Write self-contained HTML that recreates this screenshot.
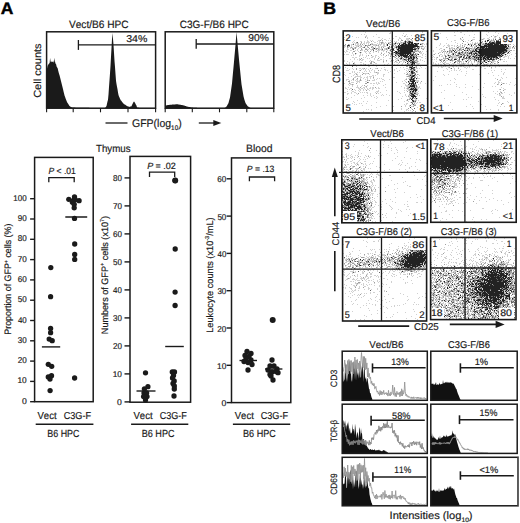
<!DOCTYPE html>
<html><head><meta charset="utf-8"><style>
html,body{margin:0;padding:0;background:#fff;width:520px;height:523px;overflow:hidden}
svg{display:block}
text{font-family:"Liberation Sans",sans-serif;text-rendering:geometricPrecision;font-kerning:none}
</style></head><body>
<svg width="520" height="523" viewBox="0 0 520 523">
<defs><filter id="sb" x="-5%" y="-5%" width="110%" height="110%"><feGaussianBlur stdDeviation="0.45"/></filter></defs>
<rect width="520" height="523" fill="#fff"/>
<g fill="#1a1a1a">
<text transform="translate(1.20 13.80) scale(1.0319 1)" fill="#000" stroke="#000" stroke-width="0.45"><tspan x="-0.42" y="0.00" font-size="16.90" font-weight="bold">A</tspan></text>
<text transform="translate(324.40 13.80) scale(1.0479 1)" fill="#000" stroke="#000" stroke-width="0.45"><tspan x="-1.13" y="0.00" font-size="16.90" font-weight="bold">B</tspan></text>
<text transform="translate(69.00 27.90) scale(0.9552 1)" fill="#1a1a1a" stroke="#1a1a1a" stroke-width="0.18"><tspan x="-0.05 7.03 12.94 18.24 21.19 24.14 31.22 37.12 40.07 47.74 54.82" y="0.00" font-size="10.61">Vect/B6 HPC</tspan></text>
<text transform="translate(180.30 28.30) scale(0.9433 1)" fill="#1a1a1a" stroke="#1a1a1a" stroke-width="0.18"><tspan x="-0.54 7.13 13.03 21.29 24.82 31.30 34.25 41.33 47.24 50.19 57.85 64.93" y="0.00" font-size="10.61">C3G-F/B6 HPC</tspan></text>
<text transform="translate(41.00 97.30) rotate(-90) scale(1.0652 1)" fill="#1a1a1a" stroke="#1a1a1a" stroke-width="0.18"><tspan x="-0.52 6.94 12.69 14.98 17.28 20.15 25.32 31.07 36.81 42.56 45.43" y="0.00" font-size="10.34">Cell counts</tspan></text>
<path d="M46.6 108.2 46.6 70.0 47.1 68.2 47.6 65.8 48.1 64.9 48.6 63.9 49.1 63.6 49.6 63.0 50.1 58.0 50.6 61.5 51.1 62.3 51.6 61.3 52.1 62.1 52.6 62.0 53.1 60.5 53.6 62.4 54.1 62.3 54.6 57.8 55.1 62.0 55.6 63.8 56.1 64.3 56.6 66.5 57.1 67.6 57.6 68.1 58.1 70.3 58.6 72.2 59.1 73.9 59.6 75.6 60.1 77.4 60.6 79.4 61.1 81.4 61.6 83.4 62.1 85.4 62.6 87.5 63.1 89.6 63.6 91.7 64.1 93.8 64.6 95.8 65.1 97.1 65.6 98.4 66.1 99.7 66.6 101.0 67.1 102.2 67.6 103.0 68.1 103.8 68.6 104.6 69.1 105.4 69.6 106.1 70.1 106.4 70.6 106.7 71.1 107.0 71.6 107.3 72.1 107.6 72.6 107.6 73.1 107.6 73.6 107.6 74.1 107.6 74.6 107.6 75.1 107.6 75.6 107.7 76.1 107.7 76.6 107.7 77.1 107.7 77.6 107.7 78.1 107.7 78.6 107.7 79.1 107.7 79.6 107.7 80.1 107.7 80.6 107.7 81.1 107.7 81.6 107.7 82.1 107.7 82.6 107.8 83.1 107.8 83.6 107.8 84.1 107.8 84.6 107.8 85.1 107.8 85.6 107.8 86.1 107.8 86.6 107.8 87.1 107.8 87.6 107.8 88.1 107.8 88.6 107.8 89.1 107.8 89.6 107.9 90.1 107.9 90.6 107.9 91.1 107.9 91.6 107.9 92.1 107.9 92.6 107.9 93.1 107.9 93.6 107.9 94.1 107.9 94.6 107.9 95.1 107.9 95.6 107.9 96.1 107.9 96.6 108.0 97.1 108.0 97.6 108.0 98.1 108.0 98.6 108.0 99.1 108.0 99.6 108.0 100.0 108.2Z" fill="#1a1a1a" stroke="none" stroke-width="1"/>
<path d="M105.0 108.2 105.0 108.1 105.5 107.5 106.0 106.7 106.5 106.0 107.0 103.7 107.5 101.4 108.0 99.8 108.5 94.4 109.0 87.0 109.5 80.2 110.0 73.2 110.5 65.9 111.0 56.8 111.5 47.9 112.0 38.9 112.5 32.9 113.0 39.0 113.5 44.8 114.0 52.9 114.5 60.9 115.0 67.1 115.5 73.9 116.0 80.7 116.5 83.9 117.0 86.8 117.5 89.3 118.0 92.5 118.5 95.0 119.0 96.4 119.5 97.6 120.0 98.7 120.5 99.7 121.0 100.7 121.5 100.8 122.0 102.0 122.5 102.4 123.0 102.7 123.5 103.8 124.0 103.9 124.5 104.6 125.0 104.5 125.5 104.9 126.0 105.2 126.5 105.7 127.0 105.9 127.5 106.2 128.0 106.4 128.5 106.4 129.0 106.7 129.5 106.9 130.0 106.5 130.5 106.6 131.0 106.4 131.5 106.2 132.0 105.0 132.5 104.1 133.0 103.0 133.5 102.1 134.0 101.5 134.5 101.9 135.0 103.0 135.5 103.8 136.0 105.1 136.5 105.5 137.0 107.4 137.5 107.6 138.0 107.7 138.5 107.5 139.0 107.9 139.5 108.0 140.0 107.8 140.0 108.2Z" fill="#1a1a1a" stroke="none" stroke-width="1"/>
<rect x="46.6" y="31.8" width="109.0" height="76.4" fill="none" stroke="#1a1a1a" stroke-width="1.5"/>
<line x1="46.6" y1="108.2" x2="46.6" y2="112.3" stroke="#1a1a1a" stroke-width="1.1"/>
<line x1="73.2" y1="108.2" x2="73.2" y2="112.3" stroke="#1a1a1a" stroke-width="1.1"/>
<line x1="100.5" y1="108.2" x2="100.5" y2="112.3" stroke="#1a1a1a" stroke-width="1.1"/>
<line x1="128.0" y1="108.2" x2="128.0" y2="112.3" stroke="#1a1a1a" stroke-width="1.1"/>
<line x1="155.6" y1="108.2" x2="155.6" y2="112.3" stroke="#1a1a1a" stroke-width="1.1"/>
<line x1="78.4" y1="40.0" x2="78.4" y2="49.9" stroke="#1a1a1a" stroke-width="1.3"/>
<line x1="78.4" y1="44.9" x2="155.6" y2="44.9" stroke="#1a1a1a" stroke-width="1.3"/>
<text transform="translate(126.60 42.00) scale(1.0672 1)" fill="#1a1a1a" stroke="#1a1a1a" stroke-width="0.18"><tspan x="-0.38 5.14 10.65" y="0.00" font-size="9.92">34%</tspan></text>
<rect x="165.2" y="31.8" width="108.6" height="76.4" fill="none" stroke="#1a1a1a" stroke-width="1.5"/>
<path d="M165.2 108.2 165.2 105.5 165.7 105.4 166.2 105.4 166.7 105.3 167.2 105.2 167.7 105.1 168.2 105.1 168.7 105.0 169.2 104.9 169.7 104.8 170.2 104.8 170.7 104.7 171.2 104.7 171.7 104.7 172.2 104.6 172.7 104.6 173.2 104.5 173.7 104.5 174.2 104.4 174.7 104.4 175.2 104.4 175.7 104.3 176.2 104.3 176.7 104.2 177.2 104.2 177.7 104.3 178.2 104.4 178.7 104.5 179.2 104.6 179.7 104.7 180.2 104.7 180.7 104.8 181.2 104.9 181.7 105.0 182.2 105.1 182.7 105.2 183.2 105.3 183.7 105.4 184.2 105.6 184.7 105.7 185.2 105.9 185.7 106.1 186.2 106.2 186.7 106.4 187.2 106.5 187.7 106.7 188.2 106.8 188.7 106.9 189.2 107.0 189.7 107.1 190.2 107.2 190.7 107.3 191.2 107.4 191.7 107.5 192.2 107.6 192.7 107.6 193.2 107.7 193.7 107.7 194.2 107.7 194.7 107.7 195.2 107.8 195.7 107.8 196.2 107.8 196.7 107.8 197.2 107.9 197.7 107.9 198.2 107.9 198.7 107.9 199.2 108.0 199.7 108.0 200.0 108.2Z" fill="#1a1a1a" stroke="none" stroke-width="1"/>
<path d="M224.0 108.2 224.0 108.2 224.5 108.2 225.0 107.8 225.5 107.4 226.0 107.0 226.5 106.6 227.0 105.7 227.5 104.8 228.0 103.9 228.5 103.0 229.0 101.1 229.5 99.3 230.0 97.4 230.5 94.0 231.0 90.5 231.5 87.0 232.0 83.6 232.5 78.1 233.0 72.6 233.5 67.2 234.0 61.7 234.5 56.1 235.0 50.6 235.5 45.0 236.0 38.5 236.5 32.0 237.0 37.6 237.5 43.1 238.0 48.6 238.5 54.0 239.0 59.5 239.5 64.6 240.0 69.6 240.5 74.6 241.0 79.6 241.5 84.2 242.0 87.2 242.5 90.2 243.0 93.2 243.5 96.2 244.0 98.3 244.5 99.9 245.0 101.4 245.5 103.0 246.0 103.8 246.5 104.5 247.0 105.2 247.5 106.0 248.0 106.4 248.5 106.7 249.0 107.1 249.5 107.4 250.0 107.8 250.5 107.9 251.0 108.0 251.5 108.1 252.0 108.2 252.0 108.2Z" fill="#1a1a1a" stroke="none" stroke-width="1"/>
<line x1="165.2" y1="108.2" x2="165.2" y2="112.3" stroke="#1a1a1a" stroke-width="1.1"/>
<line x1="192.3" y1="108.2" x2="192.3" y2="112.3" stroke="#1a1a1a" stroke-width="1.1"/>
<line x1="219.5" y1="108.2" x2="219.5" y2="112.3" stroke="#1a1a1a" stroke-width="1.1"/>
<line x1="246.8" y1="108.2" x2="246.8" y2="112.3" stroke="#1a1a1a" stroke-width="1.1"/>
<line x1="273.8" y1="108.2" x2="273.8" y2="112.3" stroke="#1a1a1a" stroke-width="1.1"/>
<line x1="196.2" y1="38.9" x2="196.2" y2="48.8" stroke="#1a1a1a" stroke-width="1.3"/>
<line x1="196.2" y1="44.0" x2="273.8" y2="44.0" stroke="#1a1a1a" stroke-width="1.3"/>
<text transform="translate(248.80 41.40) scale(1.0353 1)" fill="#1a1a1a" stroke="#1a1a1a" stroke-width="0.18"><tspan x="-0.46 5.05 10.57" y="0.00" font-size="9.92">90%</tspan></text>
<line x1="105.5" y1="123.0" x2="127.5" y2="123.0" stroke="#1a1a1a" stroke-width="1.3"/>
<text transform="translate(132.50 126.80) scale(0.9413 1)" fill="#1a1a1a" stroke="#1a1a1a" stroke-width="0.18"><tspan x="-0.56 8.13 14.95 22.41 26.13 28.61 34.82" y="0.00" font-size="11.17">GFP(log</tspan><tspan x="41.04 44.77" y="3.35" font-size="6.70">10</tspan><tspan x="48.49" y="0.00" font-size="11.17">)</tspan></text>
<line x1="198.8" y1="123.0" x2="214.3" y2="123.0" stroke="#1a1a1a" stroke-width="1.3"/>
<path d="M213.3 120.0 221.3 123.0 213.3 126.0Z" fill="#1a1a1a" stroke="none" stroke-width="1"/>
<text transform="translate(96.20 151.60) scale(0.9433 1)" fill="#1a1a1a" stroke="#1a1a1a" stroke-width="0.18"><tspan x="-0.23 6.08 11.83 17.00 25.61 31.35" y="0.00" font-size="10.34">Thymus</tspan></text>
<text transform="translate(246.90 151.50) scale(0.9768 1)" fill="#1a1a1a" stroke="#1a1a1a" stroke-width="0.18"><tspan x="-0.87 6.21 8.57 14.47 20.37" y="0.00" font-size="10.61">Blood</tspan></text>
<rect x="34.6" y="157.4" width="58.6" height="244.3" fill="none" stroke="#1a1a1a" stroke-width="1.5"/>
<line x1="30.1" y1="401.7" x2="34.6" y2="401.7" stroke="#1a1a1a" stroke-width="1.4"/>
<text transform="translate(22.25 403.70) scale(1.0360 1)" fill="#1a1a1a" stroke="#1a1a1a" stroke-width="0.18"><tspan x="-0.33" y="0.00" font-size="8.38">0</tspan></text>
<line x1="30.1" y1="381.4" x2="34.6" y2="381.4" stroke="#1a1a1a" stroke-width="1.4"/>
<text transform="translate(18.10 383.40) scale(0.9934 1)" fill="#1a1a1a" stroke="#1a1a1a" stroke-width="0.18"><tspan x="-0.64 4.02" y="0.00" font-size="8.38">10</tspan></text>
<line x1="30.1" y1="361.1" x2="34.6" y2="361.1" stroke="#1a1a1a" stroke-width="1.4"/>
<text transform="translate(18.10 363.10) scale(0.9682 1)" fill="#1a1a1a" stroke="#1a1a1a" stroke-width="0.18"><tspan x="-0.42 4.24" y="0.00" font-size="8.38">20</tspan></text>
<line x1="30.1" y1="340.8" x2="34.6" y2="340.8" stroke="#1a1a1a" stroke-width="1.4"/>
<text transform="translate(18.10 342.80) scale(0.9568 1)" fill="#1a1a1a" stroke="#1a1a1a" stroke-width="0.18"><tspan x="-0.32 4.34" y="0.00" font-size="8.38">30</tspan></text>
<line x1="30.1" y1="320.5" x2="34.6" y2="320.5" stroke="#1a1a1a" stroke-width="1.4"/>
<text transform="translate(18.10 322.50) scale(0.9430 1)" fill="#1a1a1a" stroke="#1a1a1a" stroke-width="0.18"><tspan x="-0.19 4.47" y="0.00" font-size="8.38">40</tspan></text>
<line x1="30.1" y1="300.2" x2="34.6" y2="300.2" stroke="#1a1a1a" stroke-width="1.4"/>
<text transform="translate(18.10 302.20) scale(0.9586 1)" fill="#1a1a1a" stroke="#1a1a1a" stroke-width="0.18"><tspan x="-0.34 4.32" y="0.00" font-size="8.38">50</tspan></text>
<line x1="30.1" y1="279.9" x2="34.6" y2="279.9" stroke="#1a1a1a" stroke-width="1.4"/>
<text transform="translate(18.10 281.90) scale(0.9687 1)" fill="#1a1a1a" stroke="#1a1a1a" stroke-width="0.18"><tspan x="-0.43 4.23" y="0.00" font-size="8.38">60</tspan></text>
<line x1="30.1" y1="259.6" x2="34.6" y2="259.6" stroke="#1a1a1a" stroke-width="1.4"/>
<text transform="translate(18.10 261.60) scale(0.9692 1)" fill="#1a1a1a" stroke="#1a1a1a" stroke-width="0.18"><tspan x="-0.43 4.23" y="0.00" font-size="8.38">70</tspan></text>
<line x1="30.1" y1="239.3" x2="34.6" y2="239.3" stroke="#1a1a1a" stroke-width="1.4"/>
<text transform="translate(18.10 241.30) scale(0.9618 1)" fill="#1a1a1a" stroke="#1a1a1a" stroke-width="0.18"><tspan x="-0.36 4.30" y="0.00" font-size="8.38">80</tspan></text>
<line x1="30.1" y1="219.0" x2="34.6" y2="219.0" stroke="#1a1a1a" stroke-width="1.4"/>
<text transform="translate(18.10 221.00) scale(0.9650 1)" fill="#1a1a1a" stroke="#1a1a1a" stroke-width="0.18"><tspan x="-0.39 4.27" y="0.00" font-size="8.38">90</tspan></text>
<line x1="30.1" y1="198.7" x2="34.6" y2="198.7" stroke="#1a1a1a" stroke-width="1.4"/>
<text transform="translate(13.95 200.70) scale(0.9565 1)" fill="#1a1a1a" stroke="#1a1a1a" stroke-width="0.18"><tspan x="-0.64 4.02 8.68" y="0.00" font-size="8.38">100</tspan></text>
<text transform="translate(11.40 334.00) rotate(-90) scale(0.9489 1)" fill="#1a1a1a" stroke="#1a1a1a" stroke-width="0.18"><tspan x="-0.77 5.47 8.59 13.79 19.00 24.20 27.32 29.92 32.00 37.20 42.41 45.01 50.21 52.81 55.41 62.69 68.40" y="0.00" font-size="9.36">Proportion of GFP</tspan><tspan x="74.65" y="-3.37" font-size="5.61">+</tspan><tspan x="77.92 80.52 85.20 90.41 92.49 94.57 99.24 101.84 104.96 113.28" y="0.00" font-size="9.36"> cells (%)</tspan></text>
<rect x="130.0" y="156.4" width="60.6" height="245.8" fill="none" stroke="#1a1a1a" stroke-width="1.5"/>
<line x1="124.5" y1="401.9" x2="130.0" y2="401.9" stroke="#1a1a1a" stroke-width="1.4"/>
<text transform="translate(117.45 404.90) scale(1.0360 1)" fill="#1a1a1a" stroke="#1a1a1a" stroke-width="0.18"><tspan x="-0.33" y="0.00" font-size="8.38">0</tspan></text>
<line x1="124.5" y1="373.9" x2="130.0" y2="373.9" stroke="#1a1a1a" stroke-width="1.4"/>
<text transform="translate(113.30 376.90) scale(0.9934 1)" fill="#1a1a1a" stroke="#1a1a1a" stroke-width="0.18"><tspan x="-0.64 4.02" y="0.00" font-size="8.38">10</tspan></text>
<line x1="124.5" y1="345.9" x2="130.0" y2="345.9" stroke="#1a1a1a" stroke-width="1.4"/>
<text transform="translate(113.30 348.90) scale(0.9682 1)" fill="#1a1a1a" stroke="#1a1a1a" stroke-width="0.18"><tspan x="-0.42 4.24" y="0.00" font-size="8.38">20</tspan></text>
<line x1="124.5" y1="317.9" x2="130.0" y2="317.9" stroke="#1a1a1a" stroke-width="1.4"/>
<text transform="translate(113.30 320.90) scale(0.9568 1)" fill="#1a1a1a" stroke="#1a1a1a" stroke-width="0.18"><tspan x="-0.32 4.34" y="0.00" font-size="8.38">30</tspan></text>
<line x1="124.5" y1="289.9" x2="130.0" y2="289.9" stroke="#1a1a1a" stroke-width="1.4"/>
<text transform="translate(113.30 292.90) scale(0.9430 1)" fill="#1a1a1a" stroke="#1a1a1a" stroke-width="0.18"><tspan x="-0.19 4.47" y="0.00" font-size="8.38">40</tspan></text>
<line x1="124.5" y1="261.9" x2="130.0" y2="261.9" stroke="#1a1a1a" stroke-width="1.4"/>
<text transform="translate(113.30 264.90) scale(0.9586 1)" fill="#1a1a1a" stroke="#1a1a1a" stroke-width="0.18"><tspan x="-0.34 4.32" y="0.00" font-size="8.38">50</tspan></text>
<line x1="124.5" y1="233.9" x2="130.0" y2="233.9" stroke="#1a1a1a" stroke-width="1.4"/>
<text transform="translate(113.30 236.90) scale(0.9687 1)" fill="#1a1a1a" stroke="#1a1a1a" stroke-width="0.18"><tspan x="-0.43 4.23" y="0.00" font-size="8.38">60</tspan></text>
<line x1="124.5" y1="205.9" x2="130.0" y2="205.9" stroke="#1a1a1a" stroke-width="1.4"/>
<text transform="translate(113.30 208.90) scale(0.9692 1)" fill="#1a1a1a" stroke="#1a1a1a" stroke-width="0.18"><tspan x="-0.43 4.23" y="0.00" font-size="8.38">70</tspan></text>
<line x1="124.5" y1="177.9" x2="130.0" y2="177.9" stroke="#1a1a1a" stroke-width="1.4"/>
<text transform="translate(113.30 180.90) scale(0.9618 1)" fill="#1a1a1a" stroke="#1a1a1a" stroke-width="0.18"><tspan x="-0.36 4.30" y="0.00" font-size="8.38">80</tspan></text>
<text transform="translate(107.50 333.40) rotate(-90) scale(0.9702 1)" fill="#1a1a1a" stroke="#1a1a1a" stroke-width="0.18"><tspan x="-0.77 5.99 11.19 18.99 24.19 29.40 32.51 37.19 39.79 45.00 47.60 50.20 57.47 63.19" y="0.00" font-size="9.36">Numbers of GFP</tspan><tspan x="69.43" y="-3.37" font-size="5.61">+</tspan><tspan x="72.71 75.31 79.99 85.19 87.27 89.35 94.03 96.63 99.75 104.43 109.63" y="0.00" font-size="9.36"> cells (x10</tspan><tspan x="114.83" y="-3.37" font-size="5.61">7</tspan><tspan x="117.96" y="0.00" font-size="9.36">)</tspan></text>
<rect x="231.5" y="157.9" width="59.3" height="244.7" fill="none" stroke="#1a1a1a" stroke-width="1.5"/>
<line x1="226.6" y1="402.6" x2="231.5" y2="402.6" stroke="#1a1a1a" stroke-width="1.4"/>
<text transform="translate(221.85 406.10) scale(1.0360 1)" fill="#1a1a1a" stroke="#1a1a1a" stroke-width="0.18"><tspan x="-0.33" y="0.00" font-size="8.38">0</tspan></text>
<line x1="226.6" y1="365.3" x2="231.5" y2="365.3" stroke="#1a1a1a" stroke-width="1.4"/>
<text transform="translate(217.70 368.80) scale(0.9934 1)" fill="#1a1a1a" stroke="#1a1a1a" stroke-width="0.18"><tspan x="-0.64 4.02" y="0.00" font-size="8.38">10</tspan></text>
<line x1="226.6" y1="328.0" x2="231.5" y2="328.0" stroke="#1a1a1a" stroke-width="1.4"/>
<text transform="translate(217.70 331.50) scale(0.9682 1)" fill="#1a1a1a" stroke="#1a1a1a" stroke-width="0.18"><tspan x="-0.42 4.24" y="0.00" font-size="8.38">20</tspan></text>
<line x1="226.6" y1="290.7" x2="231.5" y2="290.7" stroke="#1a1a1a" stroke-width="1.4"/>
<text transform="translate(217.70 294.20) scale(0.9568 1)" fill="#1a1a1a" stroke="#1a1a1a" stroke-width="0.18"><tspan x="-0.32 4.34" y="0.00" font-size="8.38">30</tspan></text>
<line x1="226.6" y1="253.4" x2="231.5" y2="253.4" stroke="#1a1a1a" stroke-width="1.4"/>
<text transform="translate(217.70 256.90) scale(0.9430 1)" fill="#1a1a1a" stroke="#1a1a1a" stroke-width="0.18"><tspan x="-0.19 4.47" y="0.00" font-size="8.38">40</tspan></text>
<line x1="226.6" y1="216.1" x2="231.5" y2="216.1" stroke="#1a1a1a" stroke-width="1.4"/>
<text transform="translate(217.70 219.60) scale(0.9586 1)" fill="#1a1a1a" stroke="#1a1a1a" stroke-width="0.18"><tspan x="-0.34 4.32" y="0.00" font-size="8.38">50</tspan></text>
<line x1="226.6" y1="178.8" x2="231.5" y2="178.8" stroke="#1a1a1a" stroke-width="1.4"/>
<text transform="translate(217.70 182.30) scale(0.9687 1)" fill="#1a1a1a" stroke="#1a1a1a" stroke-width="0.18"><tspan x="-0.43 4.23" y="0.00" font-size="8.38">60</tspan></text>
<text transform="translate(212.80 332.00) rotate(-90) scale(0.9828 1)" fill="#1a1a1a" stroke="#1a1a1a" stroke-width="0.18"><tspan x="-0.77 4.44 9.64 14.85 19.52 24.73 29.41 34.09 36.69 41.89 44.49 49.17 54.37 59.58 64.78 67.38 72.06 74.66 77.78 82.45 87.66" y="0.00" font-size="9.36">Leukocyte counts (x10</tspan><tspan x="92.86 94.73" y="-3.37" font-size="5.61">-3</tspan><tspan x="97.85 100.45 108.25 113.45" y="0.00" font-size="9.36">/mL)</tspan></text>
<text transform="translate(48.80 173.80) scale(0.9400 1)" fill="#1a1a1a" stroke="#1a1a1a" stroke-width="0.18"><tspan x="-0.28" y="0.00" font-size="9.08" font-style="italic">P</tspan><tspan x="5.78 8.30 13.60 16.12 18.64 23.69" y="0.00" font-size="9.08"> &lt; .01</tspan></text>
<path d="M48.8 182.3V177.7H74.2V182.3" fill="none" stroke="#1a1a1a" stroke-width="1.3"/>
<text transform="translate(147.40 169.00) scale(0.9899 1)" fill="#1a1a1a" stroke="#1a1a1a" stroke-width="0.18"><tspan x="-0.28" y="0.00" font-size="9.08" font-style="italic">P</tspan><tspan x="5.78 8.30 13.60 16.12 18.64 23.69" y="0.00" font-size="9.08"> = .02</tspan></text>
<path d="M149.5 177.0V172.1H174.7V177.0" fill="none" stroke="#1a1a1a" stroke-width="1.3"/>
<text transform="translate(247.10 172.30) scale(0.9491 1)" fill="#1a1a1a" stroke="#1a1a1a" stroke-width="0.18"><tspan x="-0.28" y="0.00" font-size="9.08" font-style="italic">P</tspan><tspan x="5.78 8.30 13.60 16.12 18.64 23.69" y="0.00" font-size="9.08"> = .13</tspan></text>
<path d="M249.4 181.3V177.0H274.6V181.3" fill="none" stroke="#1a1a1a" stroke-width="1.3"/>
<text transform="translate(37.50 418.70) scale(0.9498 1)" fill="#1a1a1a" stroke="#1a1a1a" stroke-width="0.18"><tspan x="-0.04 6.66 12.26 17.28" y="0.00" font-size="10.06">Vect</tspan></text>
<text transform="translate(64.20 418.70) scale(0.9058 1)" fill="#1a1a1a" stroke="#1a1a1a" stroke-width="0.18"><tspan x="-0.51 6.75 12.34 20.17 23.51" y="0.00" font-size="10.06">C3G-F</tspan></text>
<line x1="35.7" y1="424.2" x2="93.4" y2="424.2" stroke="#1a1a1a" stroke-width="1.5"/>
<text transform="translate(48.00 436.60) scale(0.8617 1)" fill="#1a1a1a" stroke="#1a1a1a" stroke-width="0.18"><tspan x="-0.85 6.05 11.79 14.67 22.13 29.02" y="0.00" font-size="10.34">B6 HPC</tspan></text>
<text transform="translate(133.50 418.70) scale(0.9548 1)" fill="#1a1a1a" stroke="#1a1a1a" stroke-width="0.18"><tspan x="-0.04 6.66 12.26 17.28" y="0.00" font-size="10.06">Vect</tspan></text>
<text transform="translate(160.20 418.70) scale(0.8990 1)" fill="#1a1a1a" stroke="#1a1a1a" stroke-width="0.18"><tspan x="-0.51 6.75 12.34 20.17 23.51" y="0.00" font-size="10.06">C3G-F</tspan></text>
<line x1="131.1" y1="424.2" x2="188.3" y2="424.2" stroke="#1a1a1a" stroke-width="1.5"/>
<text transform="translate(142.50 436.60) scale(0.8783 1)" fill="#1a1a1a" stroke="#1a1a1a" stroke-width="0.18"><tspan x="-0.85 6.05 11.79 14.67 22.13 29.02" y="0.00" font-size="10.34">B6 HPC</tspan></text>
<text transform="translate(234.80 418.70) scale(0.9498 1)" fill="#1a1a1a" stroke="#1a1a1a" stroke-width="0.18"><tspan x="-0.04 6.66 12.26 17.28" y="0.00" font-size="10.06">Vect</tspan></text>
<text transform="translate(261.20 418.70) scale(0.9058 1)" fill="#1a1a1a" stroke="#1a1a1a" stroke-width="0.18"><tspan x="-0.51 6.75 12.34 20.17 23.51" y="0.00" font-size="10.06">C3G-F</tspan></text>
<line x1="232.9" y1="424.2" x2="290.2" y2="424.2" stroke="#1a1a1a" stroke-width="1.5"/>
<text transform="translate(243.80 436.60) scale(0.8755 1)" fill="#1a1a1a" stroke="#1a1a1a" stroke-width="0.18"><tspan x="-0.85 6.05 11.79 14.67 22.13 29.02" y="0.00" font-size="10.34">B6 HPC</tspan></text>
<circle cx="74.5" cy="196.8" r="2.65"/>
<circle cx="68.8" cy="199.3" r="2.65"/>
<circle cx="79.1" cy="200.7" r="2.65"/>
<circle cx="73.4" cy="200.4" r="2.65"/>
<circle cx="75.2" cy="199.7" r="2.65"/>
<circle cx="72.4" cy="202.2" r="2.65"/>
<circle cx="74.2" cy="204.3" r="2.65"/>
<circle cx="74.2" cy="207.8" r="2.65"/>
<circle cx="74.5" cy="218.4" r="2.65"/>
<circle cx="74.7" cy="244.0" r="2.65"/>
<circle cx="74.7" cy="254.4" r="2.65"/>
<circle cx="74.7" cy="259.4" r="2.65"/>
<circle cx="50.8" cy="267.6" r="2.65"/>
<circle cx="50.6" cy="296.7" r="2.65"/>
<circle cx="50.6" cy="328.5" r="2.65"/>
<circle cx="50.6" cy="332.7" r="2.65"/>
<circle cx="49.2" cy="339.1" r="2.65"/>
<circle cx="52.2" cy="340.7" r="2.65"/>
<circle cx="48.3" cy="364.3" r="2.65"/>
<circle cx="51.7" cy="366.3" r="2.65"/>
<circle cx="48.3" cy="376.9" r="2.65"/>
<circle cx="51.5" cy="375.7" r="2.65"/>
<circle cx="50.0" cy="379.0" r="2.65"/>
<circle cx="50.1" cy="390.6" r="2.65"/>
<circle cx="74.6" cy="378.0" r="2.65"/>
<line x1="65.3" y1="217.0" x2="87.2" y2="217.0" stroke="#1a1a1a" stroke-width="1.5"/>
<line x1="41.9" y1="346.9" x2="60.2" y2="346.9" stroke="#1a1a1a" stroke-width="1.4"/>
<circle cx="175.2" cy="180.5" r="2.65"/>
<circle cx="175.2" cy="249.0" r="2.65"/>
<circle cx="175.1" cy="292.1" r="2.65"/>
<circle cx="175.1" cy="305.5" r="2.65"/>
<circle cx="145.5" cy="372.8" r="2.65"/>
<circle cx="147.9" cy="386.7" r="2.65"/>
<circle cx="144.4" cy="388.8" r="2.65"/>
<circle cx="144.0" cy="393.0" r="2.65"/>
<circle cx="146.6" cy="393.0" r="2.65"/>
<circle cx="143.6" cy="396.6" r="2.65"/>
<circle cx="147.0" cy="396.6" r="2.65"/>
<circle cx="145.5" cy="400.0" r="2.65"/>
<circle cx="172.3" cy="371.9" r="2.65"/>
<circle cx="174.5" cy="372.0" r="2.65"/>
<circle cx="173.5" cy="375.4" r="2.65"/>
<circle cx="172.5" cy="378.0" r="2.65"/>
<circle cx="174.2" cy="381.0" r="2.65"/>
<circle cx="173.0" cy="383.5" r="2.65"/>
<circle cx="174.3" cy="386.0" r="2.65"/>
<circle cx="174.3" cy="389.0" r="2.65"/>
<circle cx="174.0" cy="396.0" r="2.65"/>
<circle cx="175.2" cy="180.5" r="3.0"/>
<line x1="165.2" y1="346.5" x2="183.8" y2="346.5" stroke="#1a1a1a" stroke-width="1.4"/>
<line x1="136.5" y1="391.0" x2="155.5" y2="391.0" stroke="#1a1a1a" stroke-width="1.4"/>
<circle cx="272.7" cy="320.0" r="3.0"/>
<circle cx="247.0" cy="351.5" r="2.65"/>
<circle cx="251.0" cy="353.5" r="2.65"/>
<circle cx="245.0" cy="355.5" r="2.65"/>
<circle cx="249.0" cy="356.5" r="2.65"/>
<circle cx="246.0" cy="359.0" r="2.65"/>
<circle cx="251.0" cy="360.0" r="2.65"/>
<circle cx="244.0" cy="361.5" r="2.65"/>
<circle cx="248.0" cy="362.5" r="2.65"/>
<circle cx="252.0" cy="364.5" r="2.65"/>
<circle cx="248.0" cy="370.0" r="2.65"/>
<circle cx="272.0" cy="360.0" r="2.65"/>
<circle cx="270.0" cy="366.0" r="2.65"/>
<circle cx="274.0" cy="366.0" r="2.65"/>
<circle cx="277.0" cy="369.0" r="2.65"/>
<circle cx="268.0" cy="370.0" r="2.65"/>
<circle cx="272.0" cy="372.0" r="2.65"/>
<circle cx="276.0" cy="371.5" r="2.65"/>
<circle cx="270.0" cy="374.5" r="2.65"/>
<circle cx="278.0" cy="372.7" r="2.65"/>
<circle cx="271.0" cy="376.0" r="2.65"/>
<circle cx="273.0" cy="380.0" r="2.65"/>
<line x1="239.5" y1="360.5" x2="257.0" y2="360.5" stroke="#1a1a1a" stroke-width="1.4"/>
<line x1="265.0" y1="369.0" x2="282.4" y2="369.0" stroke="#1a1a1a" stroke-width="1.4"/>
<text transform="translate(366.00 26.50) scale(0.9704 1)" fill="#1a1a1a" stroke="#1a1a1a" stroke-width="0.18"><tspan x="-0.04 6.66 12.26 17.28 20.08 22.87 29.58" y="0.00" font-size="10.06">Vect/B6</tspan></text>
<text transform="translate(447.50 26.20) scale(0.9366 1)" fill="#1a1a1a" stroke="#1a1a1a" stroke-width="0.18"><tspan x="-0.51 6.75 12.34 20.17 23.51 29.66 32.45 39.16" y="0.00" font-size="10.06">C3G-F/B6</tspan></text>
<g filter="url(#sb)">
<path d="M352 31h1M363 31h1M391 31h1M422 31h1M365 32h1M390 32h1M422 32h1M389 33h2M403 33h1M361 34h1M364 34h1M376 34h1M406 34h1M366 35h1M402 35h1M405 35h1M411 35h1M352 36h1M365 36h2M373 36h1M395 36h2M405 36h1M407 36h1M344 37h1M356 37h1M358 37h1M367 37h1M378 37h2M399 37h1M367 38h1M382 38h1M389 38h1M393 38h1M399 38h2M406 38h3M344 39h1M381 39h1M384 39h2M398 39h1M401 39h1M406 39h3M410 39h1M354 40h1M367 40h1M370 40h1M372 40h1M378 40h2M386 40h1M388 40h1M390 40h1M398 40h1M407 40h3M411 40h2M353 41h1M360 41h2M364 41h1M367 41h2M373 41h1M377 41h1M379 41h1M382 41h1M391 41h1M394 41h1M396 41h1M400 41h1M407 41h1M411 41h1M352 42h1M354 42h1M364 42h1M366 42h4M374 42h2M379 42h2M383 42h1M385 42h1M388 42h2M396 42h1M398 42h1M400 42h1M402 42h1M406 42h1M353 43h1M355 43h4M360 43h2M363 43h2M366 43h1M368 43h1M371 43h2M377 43h1M379 43h1M382 43h3M386 43h1M389 43h1M393 43h1M396 43h1M398 43h1M400 43h3M406 43h2M413 43h1M420 43h2M423 43h1M426 43h1M349 44h1M351 44h2M355 44h1M357 44h2M364 44h1M368 44h1M371 44h1M373 44h4M378 44h4M383 44h2M386 44h1M389 44h1M391 44h1M393 44h1M395 44h1M397 44h1M418 44h1M422 44h1M424 44h1M426 44h1M345 45h1M351 45h1M355 45h7M363 45h1M367 45h1M370 45h1M373 45h3M377 45h1M380 45h1M383 45h2M386 45h1M391 45h2M396 45h1M422 45h1M344 46h2M348 46h1M351 46h1M353 46h1M356 46h2M360 46h1M364 46h2M371 46h1M375 46h1M378 46h2M381 46h5M393 46h3M420 46h1M423 46h1M425 46h1M344 47h1M348 47h1M350 47h1M352 47h1M354 47h1M356 47h1M359 47h2M362 47h1M367 47h1M372 47h1M375 47h1M378 47h2M387 47h1M390 47h1M394 47h1M421 47h1M424 47h1M347 48h1M350 48h1M354 48h1M358 48h1M365 48h2M372 48h1M375 48h1M378 48h2M381 48h2M384 48h2M387 48h1M391 48h1M394 48h1M397 48h1M413 48h1M419 48h1M422 48h3M347 49h2M352 49h1M357 49h1M362 49h1M367 49h2M370 49h2M375 49h1M379 49h3M384 49h2M387 49h1M396 49h1M416 49h2M422 49h1M346 50h1M350 50h2M355 50h1M357 50h1M361 50h2M364 50h1M371 50h1M377 50h3M381 50h4M387 50h1M389 50h1M416 50h1M418 50h1M344 51h1M346 51h2M358 51h1M364 51h3M368 51h1M373 51h1M375 51h1M378 51h1M383 51h1M390 51h1M417 51h1M419 51h1M422 51h1M426 51h1M345 52h1M349 52h1M352 52h1M359 52h1M361 52h1M365 52h1M369 52h1M373 52h1M378 52h1M381 52h1M386 52h1M389 52h1M391 52h1M412 52h1M420 52h2M352 53h1M356 53h1M360 53h1M366 53h1M369 53h2M384 53h1M390 53h1M392 53h2M412 53h1M416 53h2M420 53h2M423 53h1M344 54h1M346 54h3M353 54h1M355 54h1M360 54h1M362 54h1M380 54h1M388 54h1M390 54h1M392 54h3M409 54h1M416 54h1M422 54h1M425 54h1M351 55h1M353 55h1M359 55h2M362 55h1M366 55h1M375 55h2M381 55h1M383 55h1M388 55h1M390 55h2M396 55h2M415 55h1M422 55h1M359 56h1M366 56h1M372 56h2M375 56h1M378 56h1M385 56h1M400 56h1M402 56h1M417 56h4M425 56h1M352 57h2M355 57h2M363 57h1M365 57h1M371 57h2M375 57h1M379 57h1M383 57h1M394 57h1M400 57h1M415 57h1M421 57h2M354 58h1M359 58h1M367 58h1M369 58h1M374 58h1M389 58h2M392 58h1M397 58h1M399 58h1M402 58h1M405 58h1M415 58h1M425 58h1M350 59h1M354 59h1M357 59h1M359 59h1M362 59h2M374 59h1M377 59h1M380 59h2M383 59h1M395 59h1M397 59h2M401 59h2M414 59h1M417 59h1M420 59h1M344 60h1M359 60h1M361 60h2M370 60h1M377 60h3M383 60h1M392 60h2M396 60h2M402 60h3M409 60h1M414 60h1M417 60h1M420 60h1M422 60h1M344 61h1M347 61h1M352 61h1M365 61h1M369 61h1M372 61h2M386 61h1M390 61h2M396 61h1M399 61h3M403 61h2M406 61h1M408 61h1M415 61h2M418 61h1M424 61h1M349 62h1M354 62h1M360 62h2M370 62h1M373 62h1M383 62h1M394 62h1M396 62h2M403 62h1M407 62h1M417 62h1M346 63h1M349 63h1M354 63h1M363 63h1M375 63h2M388 63h1M398 63h1M402 63h1M408 63h3M416 63h4M344 64h1M347 64h1M349 64h1M353 64h3M360 64h2M363 64h2M368 64h1M373 64h1M384 64h1M387 64h1M394 64h1M397 64h1M401 64h2M405 64h3M409 64h2M417 64h2M348 65h1M355 65h1M357 65h1M360 65h1M374 65h1M376 65h1M381 65h2M411 65h2M414 65h1M417 65h1M356 66h1M368 66h2M376 66h1M415 66h1M420 66h1M345 67h1M384 67h1M391 67h1M400 67h1M403 67h1M415 67h1M421 67h1M347 68h1M352 68h1M359 68h2M362 68h2M366 68h1M375 68h2M381 68h1M396 68h1M406 68h2M409 68h2M416 68h2M419 68h1M425 68h1M349 69h1M353 69h1M361 69h1M363 69h1M365 69h1M368 69h1M372 69h1M384 69h2M394 69h1M404 69h1M408 69h2M412 69h1M415 69h1M346 70h3M359 70h1M365 70h1M369 70h1M371 70h1M374 70h1M380 70h1M385 70h1M387 70h1M394 70h1M399 70h1M406 70h1M408 70h1M410 70h1M415 70h1M417 70h1M352 71h1M354 71h1M364 71h1M366 71h1M369 71h1M374 71h1M390 71h1M397 71h1M407 71h1M410 71h1M415 71h1M417 71h1M344 72h1M352 72h1M354 72h1M357 72h1M359 72h1M362 72h1M370 72h1M374 72h2M377 72h2M388 72h1M406 72h1M408 72h1M410 72h1M416 72h2M349 73h2M355 73h2M364 73h4M377 73h2M394 73h1M404 73h1M409 73h2M344 74h1M354 74h1M357 74h1M365 74h1M369 74h1M377 74h1M383 74h2M408 74h2M418 74h1M345 75h1M353 75h1M357 75h1M360 75h1M372 75h2M375 75h1M383 75h1M408 75h1M415 75h2M419 75h1M351 76h1M355 76h6M367 76h1M369 76h3M373 76h1M383 76h1M406 76h1M410 76h1M415 76h1M417 76h1M348 77h1M354 77h2M360 77h2M364 77h1M366 77h2M370 77h1M393 77h2M409 77h1M417 77h1M360 78h1M363 78h1M367 78h1M370 78h1M373 78h1M377 78h1M379 78h1M381 78h1M406 78h1M408 78h2M417 78h3M346 79h3M352 79h1M356 79h2M365 79h1M367 79h1M374 79h1M376 79h1M382 79h2M389 79h1M405 79h1M416 79h1M346 80h1M349 80h1M351 80h1M353 80h1M355 80h1M357 80h1M359 80h1M361 80h1M368 80h1M372 80h3M384 80h1M404 80h1M409 80h1M416 80h3M356 81h4M365 81h2M380 81h1M382 81h1M402 81h1M405 81h1M409 81h1M416 81h3M349 82h1M351 82h3M357 82h1M359 82h1M376 82h1M378 82h1M396 82h1M411 82h1M416 82h1M420 82h1M344 83h1M350 83h1M370 83h2M373 83h2M376 83h1M378 83h2M403 83h2M420 83h1M425 83h1M348 84h1M350 84h2M353 84h1M377 84h1M385 84h1M392 84h1M405 84h1M410 84h1M416 84h1M418 84h1M349 85h1M352 85h1M357 85h1M362 85h1M367 85h1M373 85h1M383 85h1M405 85h5M352 86h1M357 86h1M361 86h1M365 86h1M401 86h1M406 86h3M415 86h1M417 86h1M419 86h1M345 87h1M348 87h1M356 87h3M363 87h2M366 87h1M370 87h1M372 87h2M378 87h1M385 87h1M404 87h1M407 87h1M410 87h1M417 87h3M345 88h2M350 88h2M358 88h2M361 88h2M364 88h1M367 88h1M369 88h2M372 88h2M376 88h1M378 88h2M404 88h1M406 88h1M417 88h2M420 88h1M347 89h1M349 89h1M354 89h1M359 89h2M363 89h1M365 89h1M367 89h2M372 89h1M407 89h2M351 90h1M355 90h1M358 90h1M360 90h1M363 90h1M369 90h1M378 90h1M386 90h1M404 90h1M406 90h1M408 90h1M410 90h1M412 90h1M417 90h1M347 91h1M352 91h2M359 91h1M376 91h3M397 91h1M409 91h1M411 91h1M414 91h1M416 91h1M418 91h1M344 92h2M351 92h1M354 92h2M360 92h1M362 92h1M364 92h1M366 92h2M375 92h1M377 92h1M380 92h1M399 92h1M404 92h1M411 92h1M416 92h2M347 93h2M351 93h1M356 93h1M367 93h1M370 93h1M378 93h1M400 93h1M409 93h1M413 93h1M416 93h3M347 94h1M357 94h1M370 94h1M382 94h1M386 94h1M405 94h1M410 94h1M414 94h2M354 95h1M363 95h1M367 95h1M370 95h1M373 95h1M381 95h1M383 95h1M389 95h1M405 95h1M408 95h2M415 95h1M417 95h1M419 95h1M371 96h1M376 96h1M402 96h1M406 96h1M409 96h1M346 97h1M351 97h1M364 97h1M374 97h1M377 97h1M409 97h2M348 98h1M361 98h1M376 98h1M401 98h1M409 98h1M411 98h1M413 98h1M415 98h1M417 98h1M426 98h1M346 99h2M398 99h1M408 99h1M415 99h2M357 100h1M388 100h1M406 100h1M414 100h1M416 100h1M418 100h1M353 101h1M363 101h1M367 101h1M404 101h1M408 101h1M354 102h1M376 102h1M392 102h1M410 102h1M413 102h3M417 102h1M419 102h2M352 103h1M359 103h1M361 103h1M366 103h1M406 103h2M416 103h1M354 104h1M356 104h1M404 104h1M406 104h1M411 104h2M414 104h2M362 105h1M371 105h1M386 105h1M405 105h1M409 105h1M413 105h1M380 106h1M393 106h1M405 106h1M409 106h1M411 106h2M376 107h1M417 107h1M401 108h1M411 108h1M366 109h1M368 109h1M371 109h1M401 109h1M406 109h2M371 110h1M393 110h1M406 110h1M408 110h1M410 110h1M363 111h1M404 111h1M412 111h1" stroke="#d0d0d0" stroke-width="1" fill="none" transform="translate(0 .5)"/>
<path d="M404 36h1M365 37h1M409 38h1M411 39h1M380 40h1M382 40h1M401 40h2M405 40h1M371 41h1M404 41h1M406 41h1M412 41h1M356 42h1M361 42h1M381 42h2M390 42h1M392 42h1M395 42h1M401 42h1M403 42h2M381 43h1M394 43h1M397 43h1M410 43h1M422 43h1M345 44h1M348 44h1M360 44h1M362 44h1M372 44h1M390 44h1M392 44h1M394 44h1M414 44h1M421 44h1M344 45h1M366 45h1M368 45h2M376 45h1M378 45h1M393 45h1M395 45h1M399 45h1M349 46h1M358 46h1M361 46h1M367 46h1M372 46h1M392 46h1M419 46h1M421 46h2M347 47h1M351 47h1M355 47h1M363 47h1M368 47h1M371 47h1M373 47h1M381 47h1M383 47h1M389 47h1M395 47h1M397 47h1M415 47h1M418 47h2M352 48h2M355 48h1M361 48h1M369 48h1M373 48h1M376 48h2M386 48h1M389 48h1M392 48h1M396 48h1M417 48h1M421 48h1M361 49h1M365 49h2M372 49h2M376 49h1M378 49h1M386 49h1M390 49h1M399 49h1M418 49h1M423 49h1M360 50h1M367 50h1M394 50h1M397 50h1M414 50h2M417 50h1M353 51h2M370 51h1M376 51h1M386 51h1M397 51h1M413 51h4M418 51h1M420 51h1M388 52h1M393 52h1M411 52h1M419 52h1M381 53h1M389 53h1M411 53h1M415 53h1M383 54h1M395 54h2M398 54h1M406 54h1M414 54h1M417 54h1M368 55h1M371 55h1M386 55h1M399 55h1M410 55h1M413 55h2M390 56h1M394 56h1M396 56h1M398 56h1M409 56h1M412 56h1M414 56h3M395 57h1M398 57h1M402 57h1M409 57h1M412 57h1M361 58h1M378 58h1M396 58h1M403 58h1M406 58h1M412 58h1M416 58h1M360 59h1M400 59h1M403 59h1M406 59h2M409 59h3M416 59h1M386 60h1M391 60h1M405 60h1M412 60h1M415 60h2M371 61h1M383 61h1M395 61h1M410 61h2M417 61h1M371 62h1M374 62h1M399 62h1M408 62h1M416 62h1M370 63h2M411 63h1M365 64h1M408 64h1M413 64h1M358 65h1M407 65h1M415 65h2M406 66h2M409 66h3M416 66h1M412 67h1M416 67h1M356 68h1M364 68h1M370 68h1M377 68h1M414 68h1M356 69h1M360 70h1M378 70h1M411 70h3M413 71h1M376 72h1M363 73h1M368 73h1M407 73h1M414 73h2M356 74h1M362 74h1M406 74h2M410 74h3M414 74h1M417 74h1M409 75h1M411 75h1M407 76h3M414 76h1M373 77h1M410 77h1M415 77h1M353 78h1M357 78h1M410 78h1M412 78h1M353 79h1M360 79h1M406 79h1M414 79h1M360 80h1M367 80h1M369 80h1M411 80h1M415 80h1M348 81h2M421 81h1M368 82h1M406 82h1M408 82h2M349 83h1M356 83h1M365 83h2M414 83h1M352 84h1M409 84h1M412 84h1M415 84h1M364 85h1M415 85h1M366 86h1M409 86h1M360 87h1M375 87h1M408 87h1M411 87h3M415 87h2M407 88h2M410 88h1M414 88h1M416 88h1M409 89h1M417 89h1M366 90h1M409 90h1M411 90h1M407 91h1M409 92h1M413 92h3M358 93h1M376 93h1M409 94h1M416 94h2M408 96h1M416 96h1M414 98h1M407 99h1M409 99h1M412 99h1M407 100h1M415 100h1M412 101h1M414 101h1M412 102h1M414 103h1M414 105h2M401 106h1M413 106h1M408 108h1M412 109h1M413 110h1M415 111h1" stroke="#a0a0a0" stroke-width="1" fill="none" transform="translate(0 .5)"/>
<path d="M412 38h1M408 41h1M410 41h1M357 42h1M407 42h2M388 43h1M399 43h1M416 43h2M353 44h1M370 44h1M401 44h1M404 44h1M407 44h1M417 44h1M347 45h1M349 45h1M365 45h1M417 45h1M347 46h1M389 46h1M391 46h1M396 46h2M400 46h1M364 47h1M388 47h1M391 47h1M414 47h1M417 47h1M393 48h1M414 48h3M353 49h1M382 49h1M391 49h1M373 50h1M390 50h1M393 50h1M391 51h2M399 51h1M360 52h1M395 52h1M398 52h2M413 52h2M355 53h1M391 53h1M395 53h1M397 53h1M413 53h1M391 54h1M397 54h1M399 54h1M404 54h1M411 54h1M413 54h1M415 54h1M416 55h1M393 56h1M401 56h1M407 56h1M411 56h1M401 57h1M404 57h2M407 57h2M400 58h1M410 58h1M414 58h1M417 58h1M405 59h1M398 60h1M406 60h1M413 60h1M413 61h2M405 62h1M410 62h2M414 62h2M353 63h1M413 63h1M414 64h1M410 65h1M352 66h1M409 67h1M413 67h1M413 68h1M410 69h2M413 69h2M416 71h1M413 72h2M411 73h1M413 73h1M415 74h1M412 75h1M411 76h1M412 77h1M414 77h1M414 78h1M409 79h1M412 80h1M410 81h1M367 82h1M417 82h1M410 83h1M408 84h1M414 84h1M411 85h1M416 85h1M416 86h1M412 88h1M352 89h1M413 89h1M414 90h1M410 92h1M412 92h1M410 93h1M412 93h1M415 93h1M411 94h1M410 95h3M412 97h1M415 97h1M410 98h1M413 100h1M415 101h1M411 102h1M412 103h1M413 104h1M410 105h1M414 108h1" stroke="#646464" stroke-width="1" fill="none" transform="translate(0 .5)"/>
<path d="M405 41h1M409 41h1M405 42h1M409 42h4M395 43h1M403 43h3M408 43h2M411 43h2M414 43h2M418 43h1M387 44h1M399 44h1M402 44h2M405 44h2M408 44h6M415 44h2M420 44h1M348 45h1M387 45h1M398 45h1M400 45h17M398 46h2M401 46h18M392 47h1M396 47h1M398 47h16M374 48h1M388 48h1M398 48h15M418 48h1M392 49h2M397 49h2M400 49h16M398 50h15M395 51h2M398 51h1M400 51h13M394 52h1M396 52h2M400 52h11M396 53h1M398 53h13M400 54h4M405 54h1M407 54h2M410 54h1M412 54h1M418 54h1M395 55h1M398 55h1M400 55h8M409 55h1M411 55h2M399 56h1M403 56h4M408 56h1M410 56h1M413 56h1M406 57h1M410 57h2M413 57h2M416 57h1M401 58h1M408 58h2M411 58h1M413 58h1M404 59h1M408 59h1M412 59h2M408 60h1M410 60h2M407 61h1M409 61h1M412 61h1M412 62h2M407 63h1M412 63h1M414 63h1M411 64h2M413 65h1M412 66h1M410 67h2M414 67h1M411 68h2M414 70h1M409 71h1M411 71h2M411 72h2M412 73h1M410 75h1M413 75h2M412 76h2M411 77h1M411 78h1M413 78h1M416 78h1M410 79h4M410 80h1M413 80h2M408 81h1M411 81h4M412 82h2M415 82h1M409 83h1M411 83h3M415 83h1M411 84h1M413 84h1M410 85h1M412 85h3M410 86h5M409 87h1M414 87h1M411 88h1M413 88h1M415 88h1M410 89h3M414 89h3M413 90h1M415 90h2M410 91h1M412 91h2M415 91h1M411 93h1M414 93h1M412 94h2M413 95h2M411 96h5M413 97h1M412 98h1M416 98h1M411 99h1M412 100h1M413 101h1M410 107h1" stroke="#222222" stroke-width="1" fill="none" transform="translate(0 .5)"/>
</g>
<line x1="392.3" y1="30.9" x2="392.3" y2="113.0" stroke="#1a1a1a" stroke-width="1.3"/>
<line x1="343.2" y1="65.4" x2="427.7" y2="65.4" stroke="#1a1a1a" stroke-width="1.3"/>
<rect x="343.2" y="30.9" width="84.5" height="82.1" fill="none" stroke="#1a1a1a" stroke-width="1.6"/>
<text transform="translate(346.00 41.00) scale(0.9567 1)" fill="#1a1a1a" stroke="#1a1a1a" stroke-width="0.18"><tspan x="-0.48" y="0.00" font-size="9.64">2</tspan></text>
<text transform="translate(414.90 40.80) scale(1.0105 1)" fill="#1a1a1a" stroke="#1a1a1a" stroke-width="0.18"><tspan x="-0.42 4.94" y="0.00" font-size="9.64">85</tspan></text>
<text transform="translate(345.80 110.60) scale(1.0216 1)" fill="#1a1a1a" stroke="#1a1a1a" stroke-width="0.18"><tspan x="-0.38" y="0.00" font-size="9.50">5</tspan></text>
<text transform="translate(419.80 110.80) scale(1.0173 1)" fill="#1a1a1a" stroke="#1a1a1a" stroke-width="0.18"><tspan x="-0.42" y="0.00" font-size="9.64">8</tspan></text>
<g filter="url(#sb)">
<path d="M457 31h1M467 31h1M472 31h1M486 31h1M496 31h1M454 32h1M460 32h2M488 32h1M495 32h1M440 33h1M498 33h1M507 33h1M464 34h1M474 34h1M486 34h1M454 35h2M469 35h1M480 35h1M487 35h1M493 35h1M497 35h1M494 36h1M496 36h1M446 37h1M473 37h2M489 37h1M494 37h2M483 38h2M487 38h2M493 38h1M495 38h1M499 38h1M447 39h1M460 39h2M463 39h1M472 39h3M481 39h1M483 39h1M488 39h1M491 39h1M498 39h1M454 40h2M468 40h1M472 40h1M490 40h1M492 40h1M494 40h1M451 41h1M465 41h1M470 41h1M484 41h1M491 41h3M455 42h1M467 42h1M472 42h1M475 42h1M477 42h1M482 42h1M485 42h2M440 43h1M446 43h1M457 43h1M468 43h1M470 43h1M472 43h1M474 43h1M476 43h3M481 43h2M484 43h1M440 44h1M448 44h1M460 44h1M464 44h1M469 44h2M472 44h1M507 44h1M509 44h1M513 44h1M439 45h1M444 45h1M447 45h3M451 45h2M454 45h1M460 45h1M464 45h1M467 45h1M469 45h1M475 45h1M477 45h1M481 45h3M514 45h1M443 46h1M448 46h2M454 46h1M456 46h1M458 46h3M462 46h1M470 46h1M472 46h1M474 46h2M478 46h1M509 46h2M515 46h1M436 47h1M447 47h1M449 47h1M451 47h2M460 47h2M467 47h3M472 47h1M475 47h1M508 47h3M513 47h2M440 48h2M450 48h4M457 48h3M461 48h1M463 48h1M472 48h2M475 48h1M480 48h1M509 48h2M512 48h1M439 49h1M443 49h1M449 49h2M454 49h4M461 49h1M465 49h1M468 49h1M471 49h2M474 49h1M507 49h3M433 50h1M441 50h2M444 50h1M451 50h1M457 50h1M460 50h1M468 50h1M471 50h1M474 50h1M477 50h2M508 50h2M513 50h2M433 51h1M441 51h1M444 51h1M448 51h1M450 51h1M452 51h1M457 51h1M459 51h1M463 51h1M465 51h2M507 51h2M439 52h2M444 52h1M446 52h2M450 52h1M452 52h1M454 52h1M460 52h1M463 52h2M466 52h1M468 52h1M473 52h2M477 52h1M506 52h2M510 52h1M435 53h1M444 53h1M446 53h1M448 53h2M454 53h2M457 53h1M461 53h1M463 53h1M466 53h1M472 53h1M508 53h2M515 53h1M433 54h1M440 54h2M444 54h1M447 54h2M451 54h1M457 54h1M462 54h1M468 54h1M503 54h2M506 54h1M511 54h1M432 55h1M442 55h1M444 55h1M447 55h1M452 55h4M459 55h3M463 55h1M466 55h1M469 55h1M472 55h1M474 55h1M505 55h1M507 55h1M509 55h1M433 56h1M439 56h1M441 56h2M448 56h2M452 56h7M466 56h1M478 56h1M502 56h1M504 56h3M508 56h1M515 56h1M432 57h1M434 57h1M436 57h1M443 57h1M448 57h1M450 57h2M453 57h4M467 57h1M470 57h1M472 57h2M503 57h2M508 57h1M436 58h1M444 58h1M451 58h1M454 58h1M456 58h2M462 58h1M471 58h1M479 58h1M489 58h1M492 58h1M494 58h1M500 58h1M508 58h1M510 58h1M514 58h1M432 59h1M434 59h1M436 59h1M440 59h1M442 59h1M444 59h2M450 59h1M452 59h1M458 59h1M461 59h1M464 59h1M466 59h1M469 59h4M476 59h1M480 59h1M484 59h1M495 59h1M499 59h1M501 59h2M504 59h1M439 60h1M441 60h1M446 60h2M449 60h1M453 60h2M465 60h1M468 60h1M479 60h1M494 60h1M500 60h1M436 61h1M445 61h1M452 61h1M456 61h2M461 61h1M463 61h1M468 61h2M471 61h1M476 61h2M479 61h1M482 61h1M485 61h1M487 61h1M491 61h5M503 61h2M506 61h1M433 62h1M440 62h1M442 62h1M444 62h2M450 62h1M457 62h1M461 62h1M463 62h1M466 62h1M471 62h1M474 62h1M477 62h3M481 62h1M483 62h1M492 62h2M497 62h1M433 63h1M435 63h1M438 63h1M444 63h1M446 63h3M452 63h3M457 63h3M461 63h2M464 63h2M467 63h2M471 63h2M477 63h2M487 63h2M492 63h1M495 63h1M497 63h1M435 64h2M438 64h1M440 64h2M445 64h1M451 64h1M453 64h1M455 64h1M459 64h6M468 64h1M470 64h1M476 64h1M479 64h1M483 64h1M485 64h1M487 64h1M490 64h2M498 64h1M507 64h1M440 65h2M445 65h1M450 65h2M454 65h3M458 65h1M463 65h1M468 65h1M472 65h1M481 65h1M441 66h1M443 66h1M445 66h1M452 66h2M456 66h1M460 66h2M463 66h1M469 66h1M475 66h2M483 66h2M487 66h1M495 66h1M499 66h1M438 67h1M441 67h2M448 67h1M453 67h1M458 67h1M464 67h2M467 67h1M469 67h1M481 67h1M495 67h1M446 68h1M450 68h1M454 68h1M466 68h1M484 68h2M491 68h1M447 69h1M454 69h1M460 69h1M472 69h2M501 69h1M505 69h1M443 70h1M451 70h1M454 70h1M456 70h1M459 70h1M491 70h1M494 70h1M437 71h1M449 71h1M461 71h1M466 71h1M501 71h1M492 72h1M504 72h1M466 73h1M488 73h1M503 73h1M443 74h1M448 74h1M457 74h1M479 74h1M503 74h1M444 75h1M465 75h1M493 75h1M498 75h1M435 76h1M501 77h1M506 77h1M454 78h1M495 78h1M502 78h1M515 78h1M455 79h1M500 79h1M433 80h1M450 80h1M499 80h2M498 81h1M454 82h1M495 82h1M498 82h2M501 82h1M510 82h1M484 83h1M494 83h1M498 83h1M502 83h1M504 83h1M506 83h1M447 84h1M450 84h1M456 84h1M465 84h1M498 84h1M509 84h1M515 84h1M439 85h1M441 85h1M500 85h1M514 85h1M456 86h1M472 86h1M492 86h1M495 86h1M459 87h1M465 87h1M483 87h1M501 87h1M503 88h1M478 89h1M499 89h1M504 89h2M444 90h1M493 91h1M497 91h1M500 91h1M441 92h1M462 92h1M500 92h1M504 92h1M514 92h1M495 93h1M501 93h2M514 93h1M466 94h1M482 94h1M497 94h1M499 94h2M509 94h1M454 95h1M499 95h2M511 95h1M483 96h1M503 96h1M468 97h1M471 97h1M485 97h1M494 97h1M502 97h2M444 98h1M502 98h3M463 99h1M466 99h1M495 99h1M498 100h1M478 101h1M507 101h1M450 102h1M499 102h1M508 102h1M498 103h1M503 103h1M470 104h1M481 104h1M448 105h1M497 105h1M466 106h1M472 106h1M485 106h1M500 106h1M504 106h1M473 108h1M452 109h1M486 109h1M490 109h1M498 109h1M498 110h1" stroke="#d0d0d0" stroke-width="1" fill="none" transform="translate(0 .5)"/>
<path d="M491 36h1M495 36h1M462 37h1M499 37h1M460 38h1M500 38h1M482 39h1M489 39h1M493 39h1M462 40h1M479 40h1M485 40h1M491 40h1M493 40h1M497 40h1M480 41h1M482 41h1M489 41h1M480 42h1M495 42h1M462 43h1M475 43h1M479 43h1M483 43h1M487 43h1M465 44h1M471 44h1M475 44h1M479 44h1M482 44h3M493 44h1M499 44h1M508 44h1M510 44h1M457 45h1M462 45h1M473 45h1M476 45h1M478 45h1M506 45h2M464 46h1M471 46h1M446 47h1M458 47h1M462 47h2M474 47h1M479 47h1M485 47h1M487 47h1M512 47h1M449 48h1M454 48h1M456 48h1M460 48h1M466 48h1M469 48h3M474 48h1M478 48h2M505 48h1M508 48h1M514 48h1M444 49h1M452 49h1M460 49h1M462 49h1M467 49h1M473 49h1M477 49h1M449 50h2M452 50h1M458 50h2M461 50h1M465 50h2M469 50h2M472 50h1M507 50h1M510 50h2M443 51h1M445 51h1M449 51h1M456 51h1M468 51h1M470 51h2M475 51h1M442 52h1M449 52h1M451 52h1M458 52h1M469 52h1M472 52h1M476 52h1M438 53h1M452 53h1M460 53h1M462 53h1M464 53h2M467 53h2M477 53h2M504 53h1M434 54h1M452 54h1M455 54h1M458 54h2M464 54h1M466 54h2M469 54h1M472 54h2M478 54h2M500 54h1M502 54h1M439 55h1M445 55h1M449 55h2M462 55h1M465 55h1M468 55h1M470 55h2M473 55h1M477 55h1M501 55h1M503 55h1M446 56h1M450 56h2M459 56h1M463 56h1M467 56h2M476 56h2M483 56h1M497 56h2M437 57h1M445 57h1M452 57h1M458 57h1M461 57h1M464 57h1M471 57h1M475 57h1M482 57h1M485 57h1M499 57h2M443 58h1M445 58h2M448 58h1M452 58h1M455 58h1M463 58h2M467 58h2M472 58h4M477 58h1M480 58h1M482 58h1M486 58h1M495 58h1M439 59h1M441 59h1M449 59h1M463 59h1M468 59h1M473 59h1M482 59h1M443 60h1M451 60h2M457 60h3M462 60h1M470 60h1M474 60h2M478 60h1M481 60h1M483 60h1M485 60h3M489 60h1M493 60h1M498 60h1M441 61h1M443 61h1M458 61h3M465 61h1M474 61h1M481 61h1M483 61h1M489 61h2M497 61h1M455 62h1M459 62h1M468 62h1M480 62h1M443 63h1M463 63h1M483 63h1M490 63h1M494 63h1M444 64h1M449 64h1M477 64h1M484 64h1M486 64h1M448 65h1M464 65h1M466 65h1M489 66h1M449 67h1M491 67h1M458 68h1M497 79h1M503 83h1M497 84h1M500 89h1M503 90h1M501 92h1M499 93h1M501 96h1M502 103h1M501 104h1" stroke="#a0a0a0" stroke-width="1" fill="none" transform="translate(0 .5)"/>
<path d="M495 39h1M499 39h2M471 40h1M496 40h1M498 40h1M500 40h1M463 41h1M487 41h1M490 41h1M494 41h1M499 41h1M481 42h1M490 42h2M494 42h1M489 43h1M495 43h1M474 44h1M485 44h2M503 44h1M487 45h1M504 45h1M508 45h1M476 46h1M513 46h1M457 47h1M506 47h2M465 48h1M467 48h2M477 48h1M481 48h1M484 48h1M459 49h1M463 49h1M469 49h1M476 49h1M478 49h1M480 49h1M506 49h1M455 50h1M473 50h1M447 51h1M451 51h1M462 51h1M473 51h1M504 51h2M509 51h1M455 52h2M459 52h1M461 52h2M465 52h1M467 52h1M470 52h1M475 52h1M497 52h1M502 52h1M505 52h1M453 53h1M458 53h1M470 53h1M473 53h2M501 53h1M507 53h1M460 54h2M463 54h1M471 54h1M476 54h2M456 55h3M464 55h1M475 55h1M484 55h1M445 56h1M460 56h1M464 56h1M470 56h1M472 56h1M474 56h2M479 56h1M481 56h1M486 56h1M499 56h2M459 57h2M468 57h1M477 57h1M479 57h1M490 57h1M492 57h1M495 57h1M447 58h1M459 58h1M465 58h2M469 58h2M476 58h1M481 58h1M493 58h1M496 58h2M451 59h1M456 59h1M459 59h1M474 59h2M477 59h1M479 59h1M486 59h2M492 59h1M494 59h1M496 59h1M500 59h1M440 60h1M444 60h1M450 60h1M467 60h1M492 60h1M455 61h1M478 61h1M482 62h1M485 62h1M491 62h1M498 62h1M472 64h1M451 68h1M501 84h1" stroke="#646464" stroke-width="1" fill="none" transform="translate(0 .5)"/>
<path d="M487 40h2M485 41h1M496 41h3M500 41h1M489 42h1M492 42h2M496 42h5M485 43h2M488 43h1M490 43h5M496 43h5M468 44h1M478 44h1M487 44h6M494 44h5M500 44h3M504 44h3M471 45h1M479 45h2M484 45h3M488 45h16M505 45h1M480 46h27M508 46h1M466 47h1M477 47h2M480 47h5M486 47h1M488 47h18M476 48h1M482 48h2M485 48h20M506 48h2M475 49h1M479 49h1M481 49h25M453 50h1M464 50h1M467 50h1M475 50h2M479 50h28M454 51h1M472 51h1M474 51h1M476 51h28M506 51h1M471 52h1M478 52h19M498 52h4M503 52h2M508 52h1M459 53h1M469 53h1M471 53h1M475 53h2M479 53h22M502 53h2M453 54h1M474 54h1M480 54h20M501 54h1M505 54h1M448 55h1M467 55h1M476 55h1M478 55h6M485 55h16M502 55h1M461 56h1M469 56h1M473 56h1M480 56h1M482 56h1M484 56h2M487 56h10M501 56h1M449 57h1M463 57h1M466 57h1M469 57h1M474 57h1M476 57h1M478 57h1M480 57h2M483 57h2M486 57h4M491 57h1M493 57h2M496 57h2M478 58h1M483 58h3M487 58h2M490 58h2M498 58h1M448 59h1M454 59h2M462 59h1M478 59h1M481 59h1M483 59h1M485 59h1M488 59h4M493 59h1M476 60h1M480 60h1M484 60h1M466 61h1M480 61h1M484 61h1M488 61h1M454 62h1M486 62h1M481 63h1" stroke="#222222" stroke-width="1" fill="none" transform="translate(0 .5)"/>
</g>
<line x1="480.5" y1="30.8" x2="480.5" y2="112.9" stroke="#1a1a1a" stroke-width="1.3"/>
<line x1="431.4" y1="65.5" x2="516.9" y2="65.5" stroke="#1a1a1a" stroke-width="1.3"/>
<rect x="431.4" y="30.8" width="85.5" height="82.1" fill="none" stroke="#1a1a1a" stroke-width="1.6"/>
<text transform="translate(433.80 39.60) scale(1.0724 1)" fill="#1a1a1a" stroke="#1a1a1a" stroke-width="0.18"><tspan x="-0.39" y="0.00" font-size="9.64">5</tspan></text>
<text transform="translate(503.00 41.50) scale(0.9541 1)" fill="#1a1a1a" stroke="#1a1a1a" stroke-width="0.18"><tspan x="-0.47 5.12" y="0.00" font-size="10.06">93</tspan></text>
<text transform="translate(433.50 110.90) scale(1.0411 1)" fill="#1a1a1a" stroke="#1a1a1a" stroke-width="0.18"><tspan x="-0.45 4.93" y="0.00" font-size="9.22">&lt;1</tspan></text>
<text transform="translate(509.40 111.00) scale(0.9058 1)" fill="#1a1a1a" stroke="#1a1a1a" stroke-width="0.18"><tspan x="-0.70" y="0.00" font-size="9.22">1</tspan></text>
<text transform="translate(340.30 82.50) rotate(-90) scale(0.8614 1)" fill="#1a1a1a" stroke="#1a1a1a" stroke-width="0.18"><tspan x="-0.53 7.03 14.60" y="0.00" font-size="10.47">CD8</tspan></text>
<line x1="359.2" y1="119.0" x2="410.8" y2="119.0" stroke="#1a1a1a" stroke-width="1.7"/>
<text transform="translate(417.00 123.80) scale(0.9557 1)" fill="#1a1a1a" stroke="#1a1a1a" stroke-width="0.18"><tspan x="-0.50 6.66 13.82" y="0.00" font-size="9.92">CD4</tspan></text>
<line x1="443.8" y1="118.5" x2="494.7" y2="118.5" stroke="#1a1a1a" stroke-width="1.7"/>
<path d="M493.7 114.9 502.7 118.5 493.7 122.1Z" fill="#1a1a1a" stroke="none" stroke-width="1"/>
<text transform="translate(370.40 136.90) scale(0.9665 1)" fill="#1a1a1a" stroke="#1a1a1a" stroke-width="0.18"><tspan x="-0.04 6.57 12.09 17.04 19.80 22.55 29.17" y="0.00" font-size="9.92">Vect/B6</tspan></text>
<text transform="translate(442.10 137.00) scale(0.9488 1)" fill="#1a1a1a" stroke="#1a1a1a" stroke-width="0.18"><tspan x="-0.50 6.66 12.17 19.89 23.19 29.25 32.00 38.61 44.13 46.88 50.19 55.70" y="0.00" font-size="9.92">C3G-F/B6 (1)</tspan></text>
<g filter="url(#sb)">
<path d="M343 141h1M364 141h1M384 141h1M390 141h1M405 141h1M403 142h1M342 143h1M367 143h1M391 143h1M354 144h1M383 144h1M363 145h1M388 145h1M353 146h1M368 146h1M367 147h1M383 147h1M388 147h1M395 147h1M407 147h1M412 147h1M391 148h1M406 148h1M396 149h1M359 150h1M376 150h1M391 150h1M397 150h1M342 151h1M355 151h1M406 151h1M417 151h1M358 152h1M370 152h1M397 152h1M346 153h1M358 153h1M361 153h1M379 153h1M387 153h1M394 153h1M417 153h1M342 154h1M345 154h2M351 154h1M358 154h1M346 155h1M348 155h1M350 155h1M355 155h1M357 155h1M365 155h1M368 155h1M378 155h1M381 155h1M343 156h1M351 156h2M360 156h1M366 156h1M370 156h1M397 156h1M342 157h3M346 157h1M350 157h1M352 157h1M354 157h1M357 157h1M364 157h1M369 157h1M404 157h1M347 158h2M351 158h1M359 158h1M367 158h1M374 158h1M395 158h1M410 158h1M346 159h1M360 159h1M363 159h1M365 159h1M380 159h1M416 159h1M419 159h1M346 160h1M352 160h1M359 160h1M392 160h1M401 160h1M420 160h1M342 161h2M345 161h1M350 161h2M358 161h1M364 161h2M373 161h1M342 162h1M345 162h1M347 162h1M353 162h2M357 162h1M360 162h1M402 162h1M415 162h1M351 163h1M354 163h1M356 163h2M362 163h1M365 163h1M370 163h1M372 163h1M399 163h1M407 163h1M426 163h1M344 164h2M347 164h2M355 164h1M358 164h1M363 164h1M365 164h1M369 164h1M384 164h1M398 164h1M401 164h1M351 165h1M356 165h1M358 165h1M366 165h1M400 165h1M405 165h1M344 166h1M346 166h1M352 166h1M360 166h1M363 166h1M365 166h1M376 166h1M411 166h1M415 166h1M343 167h1M345 167h2M349 167h1M352 167h2M360 167h1M379 167h1M409 167h1M352 168h1M355 168h3M361 168h1M363 168h2M368 168h1M370 168h1M409 168h1M342 169h2M346 169h2M349 169h1M356 169h2M360 169h1M363 169h2M389 169h1M399 169h1M405 169h1M417 169h1M343 170h1M348 170h1M352 170h2M358 170h1M362 170h1M364 170h1M377 170h1M380 170h1M384 170h1M419 170h1M425 170h1M342 171h1M344 171h2M349 171h4M356 171h1M358 171h1M362 171h1M366 171h1M369 171h1M379 171h1M413 171h1M345 172h3M349 172h2M353 172h1M360 172h3M366 172h1M371 172h3M388 172h1M406 172h1M343 173h1M346 173h1M349 173h1M352 173h1M355 173h1M357 173h1M360 173h1M371 173h1M377 173h1M344 174h1M351 174h1M354 174h1M361 174h2M364 174h2M367 174h1M370 174h1M372 174h1M376 174h3M342 175h2M345 175h2M348 175h1M353 175h3M360 175h1M362 175h1M364 175h1M369 175h1M378 175h2M389 175h2M414 175h1M425 175h1M344 176h1M346 176h1M351 176h3M355 176h1M360 176h3M376 176h1M424 176h1M345 177h2M354 177h1M358 177h1M362 177h1M367 177h1M373 177h1M376 177h1M402 177h1M344 178h1M346 178h1M348 178h2M353 178h1M356 178h2M361 178h2M364 178h1M366 178h1M382 178h1M344 179h2M350 179h2M353 179h1M358 179h2M361 179h1M364 179h2M367 179h1M417 179h1M422 179h1M343 180h1M345 180h1M348 180h1M350 180h1M352 180h4M358 180h1M361 180h1M363 180h2M366 180h1M371 180h1M373 180h2M391 180h1M343 181h1M347 181h3M353 181h2M358 181h1M364 181h1M367 181h1M370 181h2M374 181h1M405 181h1M426 181h1M346 182h2M352 182h1M354 182h1M357 182h2M362 182h2M366 182h1M371 182h2M403 182h1M344 183h1M349 183h2M356 183h1M361 183h2M364 183h1M366 183h3M372 183h1M397 183h1M345 184h2M351 184h1M354 184h1M361 184h2M365 184h1M369 184h1M372 184h1M394 184h1M351 185h1M355 185h1M357 185h1M363 185h1M366 185h1M371 185h1M373 185h1M375 185h1M388 185h1M407 185h1M425 185h1M359 186h1M365 186h1M368 186h1M370 186h1M372 186h1M409 186h2M342 187h1M346 187h1M352 187h1M359 187h1M361 187h1M370 187h2M374 187h1M378 187h1M385 187h1M348 188h1M354 188h1M362 188h1M364 188h1M370 188h2M374 188h1M397 188h1M342 189h1M368 189h2M373 189h1M394 189h1M421 189h1M343 190h2M346 190h2M357 190h1M361 190h2M365 190h3M372 190h1M375 190h1M380 190h1M348 191h1M365 191h1M371 191h2M374 191h2M353 192h1M360 192h2M364 192h2M367 192h4M395 192h1M404 192h1M343 193h1M351 193h1M363 193h1M365 193h2M368 193h2M371 193h3M379 193h1M353 194h1M365 194h3M370 194h1M372 194h1M377 194h1M416 194h1M357 195h2M364 195h2M367 195h1M370 195h1M372 195h1M348 196h1M352 196h1M377 196h1M420 196h1M351 197h1M367 197h1M369 197h2M395 197h1M410 197h1M417 197h1M365 198h1M367 198h1M370 198h1M374 198h1M343 199h1M364 199h1M372 199h1M385 199h1M390 199h1M423 199h1M353 200h1M365 200h1M370 200h1M374 200h1M346 201h1M351 201h1M365 201h2M368 201h1M370 201h1M372 201h1M375 201h1M382 201h1M392 201h1M407 201h1M366 202h3M375 202h2M395 202h1M416 202h2M421 202h1M342 203h1M363 203h4M372 203h1M386 203h1M365 204h1M367 204h1M375 204h1M381 204h1M404 204h1M407 204h1M357 205h1M366 205h3M370 205h1M378 205h1M389 205h1M347 206h1M366 206h2M369 206h3M374 206h1M380 206h2M390 206h1M407 206h2M355 207h2M363 207h1M367 207h4M372 207h2M381 207h1M391 207h1M353 208h1M362 208h2M366 208h1M369 208h1M371 208h1M392 208h1M349 209h1M351 209h1M354 209h1M357 209h1M360 209h1M363 209h1M368 209h4M381 209h1M391 209h1M398 209h1M406 209h1M409 209h1M357 210h3M362 210h1M365 210h1M380 210h1M400 210h1M365 211h1M372 211h1M374 211h1M376 211h1M401 211h1M361 212h1M367 212h2M370 212h1M375 212h1M396 212h1M358 213h1M363 213h1M368 213h2M371 213h1M373 213h1M378 213h1M386 213h1M396 213h1M410 213h1M364 214h1M369 214h2M377 214h1M363 215h1M385 215h1M408 215h1M361 216h1M365 216h2M368 216h1M371 216h1M373 216h1M379 216h1M359 217h1M361 217h1M365 217h2M369 217h3M383 217h1M386 217h1M395 217h1M360 218h1M369 218h1M371 218h2M374 218h1M365 219h1M370 219h1M359 220h1M367 220h1M369 220h1M381 220h1M359 221h1M361 221h2M372 221h1M375 221h1M392 221h1" stroke="#d0d0d0" stroke-width="1" fill="none" transform="translate(0 .5)"/>
<path d="M370 148h1M369 150h1M346 156h1M358 156h1M368 156h1M344 159h1M354 159h1M361 163h1M357 164h1M345 165h1M350 166h1M353 166h2M344 167h1M365 167h1M343 168h1M351 168h1M358 168h1M344 169h1M356 170h1M361 170h1M346 171h1M355 171h1M407 171h1M354 172h1M363 172h1M347 173h2M358 173h1M350 174h1M360 174h1M363 174h1M349 175h1M352 175h1M358 175h1M361 175h1M363 175h1M347 176h1M350 176h1M354 176h1M363 176h1M371 176h1M344 177h1M347 177h1M351 177h3M355 177h1M366 177h1M369 177h1M342 178h1M355 178h1M358 178h1M360 178h1M363 178h1M343 179h1M346 179h1M352 179h1M354 179h2M363 179h1M373 179h1M342 180h1M344 180h1M347 180h1M357 180h1M362 180h1M342 181h1M345 181h1M350 181h3M356 181h1M359 181h5M345 182h1M351 182h1M355 182h1M364 182h2M367 182h1M346 183h2M351 183h2M355 183h1M363 183h1M342 184h1M347 184h2M353 184h1M360 184h1M363 184h1M342 185h2M345 185h3M358 185h1M361 185h2M365 185h1M342 186h1M348 186h3M354 186h2M363 186h1M343 187h2M347 187h1M353 187h1M358 187h1M367 187h1M369 187h1M342 188h1M345 188h1M366 188h2M344 189h1M346 189h1M348 189h1M355 189h3M359 189h1M361 189h1M363 189h1M367 189h1M371 189h1M375 189h1M342 190h1M352 190h1M354 190h2M358 190h3M364 190h1M371 190h1M344 191h4M355 191h1M359 191h1M362 191h2M367 191h1M385 191h1M342 192h1M348 192h1M363 192h1M350 193h1M354 193h1M360 193h1M367 193h1M349 194h2M354 194h1M364 194h1M343 195h1M346 195h4M351 195h1M356 195h1M360 195h1M353 196h2M358 196h1M362 196h1M367 196h1M369 196h1M345 197h1M352 197h1M357 197h1M360 197h1M365 197h1M368 197h1M372 197h1M347 198h1M349 198h1M354 198h2M364 198h1M369 198h1M361 199h1M367 199h1M369 199h1M343 200h2M347 200h2M354 200h2M364 200h1M366 200h2M347 201h1M358 201h1M361 201h2M370 202h2M343 203h1M361 203h1M367 203h1M371 203h1M354 204h1M360 204h1M363 204h1M366 204h1M371 204h1M344 205h1M349 205h1M360 205h2M365 205h1M343 206h1M345 206h2M349 206h1M361 206h2M365 206h1M347 207h1M362 207h1M364 207h1M366 207h1M351 208h2M365 208h1M367 208h2M343 209h1M346 209h1M353 209h1M365 209h1M347 210h1M350 210h1M361 210h1M364 210h1M367 210h2M370 210h1M368 211h1M360 212h1M364 212h1M369 212h1M342 213h1M361 213h1M365 213h2M370 213h1M358 214h1M361 214h2M367 214h1M371 214h1M382 214h1M342 215h1M362 215h1M368 215h1M370 215h1M372 215h1M357 217h2M360 217h1M368 217h1M362 218h1M364 218h1M359 219h2M368 219h1M342 220h1M366 220h1M368 220h1M342 221h1M357 221h2M360 221h1M365 221h2M368 221h1" stroke="#a0a0a0" stroke-width="1" fill="none" transform="translate(0 .5)"/>
<path d="M359 167h1M350 168h1M350 169h1M355 172h1M356 174h2M343 176h1M345 176h1M348 177h1M359 177h1M351 178h1M354 178h1M359 178h1M342 179h1M348 179h1M357 179h1M349 180h1M359 180h1M342 182h3M353 182h1M356 182h1M361 182h1M343 183h1M348 183h1M354 183h1M358 183h1M360 183h1M365 183h1M349 184h1M352 184h1M357 184h1M359 184h1M366 184h1M350 185h1M352 185h2M356 185h1M359 185h1M344 186h1M367 186h1M369 186h1M345 187h1M350 187h1M354 187h4M360 187h1M362 187h1M344 188h1M349 188h2M352 188h1M361 188h1M363 188h1M345 189h1M353 189h1M362 189h1M350 190h2M363 190h1M368 190h1M343 191h1M349 191h1M356 191h1M360 191h1M344 192h1M346 192h1M349 192h1M351 192h1M356 192h1M358 192h1M344 193h2M357 193h1M361 193h1M346 194h1M352 194h1M355 194h1M363 194h1M368 194h1M342 195h1M344 195h1M355 195h1M363 195h1M366 195h1M342 196h1M345 196h1M349 196h1M357 196h1M359 196h1M363 196h3M343 197h1M346 197h1M353 197h1M353 198h1M359 198h1M366 198h1M342 199h1M345 199h1M349 199h1M354 199h1M356 199h1M366 199h1M368 199h1M342 200h1M349 200h1M356 200h1M359 200h1M362 200h2M343 201h1M354 201h1M359 201h1M346 202h1M351 202h1M353 202h1M355 202h2M359 202h1M362 202h1M345 203h1M350 203h2M353 203h3M360 203h1M342 204h1M346 204h1M352 204h1M358 204h2M364 204h1M343 205h1M345 205h1M350 205h1M358 205h1M363 205h1M371 205h1M344 206h1M353 206h1M355 206h1M363 206h1M344 207h1M346 207h1M353 207h1M361 207h1M350 208h1M354 208h1M359 208h1M344 209h2M347 209h1M358 209h1M367 209h1M353 210h1M363 210h1M366 210h1M342 211h1M357 211h1M359 211h2M362 211h1M364 211h1M367 211h1M358 212h2M365 212h1M357 213h1M372 213h1M342 214h1M357 214h1M359 214h2M363 214h1M366 214h1M368 214h1M360 215h2M367 215h1M360 216h1M367 216h1M367 217h1M342 218h1M361 218h1M363 218h1M365 218h1M362 219h1M357 220h1M361 220h1M363 220h2M370 220h1M363 221h1" stroke="#646464" stroke-width="1" fill="none" transform="translate(0 .5)"/>
<path d="M361 177h1M352 178h1M347 179h1M356 179h1M351 180h1M344 181h1M355 181h1M357 181h1M359 182h1M342 183h1M353 183h1M357 183h1M343 184h2M350 184h1M356 184h1M344 185h1M348 185h2M354 185h1M360 185h1M364 185h1M345 186h3M351 186h3M357 186h2M360 186h1M362 186h1M366 186h1M348 187h2M351 187h1M364 187h1M343 188h1M346 188h2M353 188h1M355 188h3M359 188h2M343 189h1M347 189h1M350 189h3M354 189h1M358 189h1M360 189h1M364 189h3M345 190h1M348 190h2M353 190h1M356 190h1M342 191h1M350 191h5M357 191h2M343 192h1M347 192h1M350 192h1M352 192h1M354 192h2M357 192h1M359 192h1M362 192h1M346 193h4M352 193h2M355 193h2M358 193h2M362 193h1M364 193h1M342 194h4M347 194h1M351 194h1M356 194h2M359 194h4M345 195h1M350 195h1M352 195h3M359 195h1M361 195h1M368 195h1M343 196h2M346 196h2M350 196h2M355 196h2M360 196h2M342 197h1M344 197h1M347 197h4M354 197h3M358 197h2M363 197h1M342 198h5M348 198h1M350 198h3M356 198h3M360 198h4M368 198h1M344 199h1M346 199h3M350 199h4M355 199h1M357 199h4M362 199h2M365 199h1M345 200h1M350 200h3M357 200h2M360 200h2M344 201h2M348 201h3M352 201h2M355 201h2M360 201h1M363 201h2M343 202h3M347 202h4M352 202h1M354 202h1M357 202h2M360 202h2M363 202h1M344 203h1M346 203h4M352 203h1M356 203h4M369 203h1M344 204h2M347 204h5M353 204h1M355 204h3M361 204h2M342 205h1M346 205h3M351 205h6M359 205h1M364 205h1M342 206h1M348 206h1M350 206h3M354 206h1M356 206h5M364 206h1M342 207h2M345 207h1M348 207h5M354 207h1M357 207h4M365 207h1M342 208h1M344 208h6M355 208h4M360 208h2M364 208h1M342 209h1M348 209h1M350 209h1M352 209h1M355 209h2M359 209h1M361 209h2M364 209h1M342 210h5M348 210h2M351 210h2M354 210h3M358 211h1M361 211h1M363 211h1M342 212h1M357 212h1M359 213h2M364 213h1M365 214h1M357 215h3M342 216h1M357 216h3M362 216h2M362 217h2M357 218h3M342 219h1M358 219h1M361 219h1M363 219h2M358 220h1M360 220h1M362 220h1" stroke="#222222" stroke-width="1" fill="none" transform="translate(0 .5)"/>
</g>
<line x1="380.5" y1="139.8" x2="380.5" y2="222.8" stroke="#1a1a1a" stroke-width="1.3"/>
<line x1="341.8" y1="172.4" x2="427.3" y2="172.4" stroke="#1a1a1a" stroke-width="1.3"/>
<rect x="341.8" y="139.8" width="85.5" height="83.0" fill="none" stroke="#1a1a1a" stroke-width="1.6"/>
<line x1="339.0" y1="172.4" x2="341.8" y2="172.4" stroke="#1a1a1a" stroke-width="1.2"/>
<text transform="translate(345.20 149.20) scale(0.9192 1)" fill="#1a1a1a" stroke="#1a1a1a" stroke-width="0.18"><tspan x="-0.37" y="0.00" font-size="9.64">3</tspan></text>
<text transform="translate(416.10 149.20) scale(0.9058 1)" fill="#1a1a1a" stroke="#1a1a1a" stroke-width="0.18"><tspan x="-0.45 4.93" y="0.00" font-size="9.22">&lt;1</tspan></text>
<text transform="translate(343.80 219.70) scale(1.1153 1)" fill="#1a1a1a" stroke="#1a1a1a" stroke-width="0.18"><tspan x="-0.45 4.91" y="0.00" font-size="9.64">95</tspan></text>
<text transform="translate(412.70 219.70) scale(0.9871 1)" fill="#1a1a1a" stroke="#1a1a1a" stroke-width="0.18"><tspan x="-0.73 4.63 7.30" y="0.00" font-size="9.64">1.5</tspan></text>
<g filter="url(#sb)">
<path d="M437 140h1M453 140h1M468 140h1M493 140h1M460 141h1M478 141h1M450 142h1M450 143h1M454 143h1M449 144h1M456 144h1M473 144h1M501 144h1M449 145h1M458 145h1M461 145h1M452 146h1M466 146h1M476 146h1M501 146h1M465 147h1M475 147h1M489 147h1M431 148h1M447 148h1M455 148h2M461 148h2M470 148h1M472 148h1M479 148h1M481 148h1M431 149h1M448 149h1M450 149h3M456 149h1M458 149h3M462 149h1M472 149h1M474 149h1M480 149h2M484 149h1M492 149h1M496 149h1M498 149h1M500 149h1M431 150h1M448 150h1M453 150h3M457 150h1M460 150h2M464 150h2M476 150h1M478 150h1M482 150h1M484 150h2M492 150h6M431 151h2M434 151h2M437 151h3M442 151h1M452 151h1M455 151h1M458 151h1M460 151h1M462 151h2M466 151h1M468 151h1M473 151h1M478 151h1M482 151h1M485 151h3M490 151h1M492 151h1M496 151h1M502 151h1M504 151h2M511 151h2M434 152h1M436 152h1M442 152h3M447 152h3M456 152h1M462 152h2M466 152h1M470 152h2M474 152h1M477 152h1M480 152h1M483 152h1M485 152h1M487 152h2M491 152h1M493 152h1M497 152h5M504 152h1M506 152h2M511 152h1M432 153h1M438 153h1M461 153h2M467 153h1M471 153h1M475 153h1M478 153h1M481 153h2M484 153h2M487 153h1M492 153h1M497 153h1M501 153h1M503 153h2M513 153h1M442 154h2M445 154h1M459 154h1M462 154h2M466 154h2M474 154h1M477 154h2M480 154h1M483 154h1M489 154h1M497 154h2M501 154h1M506 154h1M431 155h1M448 155h1M463 155h1M465 155h1M472 155h2M475 155h1M481 155h1M505 155h1M507 155h2M431 156h1M464 156h1M466 156h1M468 156h2M472 156h1M474 156h1M478 156h1M484 156h1M489 156h1M504 156h1M506 156h2M467 157h1M472 157h3M479 157h1M502 157h1M505 157h1M507 157h1M468 158h1M471 158h1M473 158h1M507 158h1M474 159h1M506 159h1M510 159h1M475 160h1M478 160h1M505 160h1M507 160h1M514 160h1M477 161h1M503 161h3M467 162h3M475 162h1M511 162h2M472 163h1M474 163h1M502 163h1M508 163h1M467 164h1M471 164h1M484 164h1M508 164h1M511 164h1M467 165h1M479 165h1M482 165h1M489 165h1M500 165h1M503 165h1M509 165h1M515 165h1M463 166h1M465 166h2M468 166h3M474 166h4M479 166h1M483 166h1M496 166h3M500 166h1M505 166h3M447 167h1M465 167h1M468 167h1M478 167h1M481 167h1M483 167h3M490 167h1M493 167h1M496 167h1M502 167h2M505 167h1M507 167h1M510 167h1M466 168h1M469 168h1M471 168h2M475 168h1M477 168h1M479 168h1M488 168h3M493 168h2M497 168h1M501 168h1M504 168h1M507 168h2M511 168h1M433 169h2M436 169h1M451 169h1M463 169h1M468 169h1M473 169h3M478 169h1M480 169h2M483 169h2M486 169h2M492 169h2M495 169h2M500 169h1M502 169h1M508 169h1M510 169h1M446 170h1M462 170h4M467 170h3M479 170h2M486 170h2M489 170h1M491 170h4M496 170h1M501 170h1M507 170h1M431 171h1M433 171h1M438 171h1M444 171h3M461 171h3M467 171h2M470 171h1M474 171h2M478 171h1M483 171h3M494 171h1M432 172h1M434 172h1M439 172h1M456 172h2M462 172h1M467 172h1M475 172h1M477 172h1M484 172h1M498 172h1M507 172h1M431 173h2M434 173h1M436 173h1M439 173h1M441 173h1M448 173h1M452 173h1M454 173h2M457 173h1M460 173h5M467 173h1M473 173h1M484 173h1M493 173h1M499 173h1M505 173h1M439 174h1M442 174h1M449 174h1M453 174h1M462 174h2M465 174h1M474 174h1M482 174h1M486 174h1M502 174h1M510 174h1M432 175h1M436 175h1M440 175h1M448 175h1M451 175h1M453 175h1M458 175h1M461 175h1M464 175h2M483 175h1M490 175h1M503 175h1M431 176h1M434 176h1M442 176h4M447 176h1M449 176h1M455 176h1M466 176h1M487 176h1M490 176h1M512 176h1M433 177h1M438 177h1M441 177h1M446 177h1M450 177h1M452 177h3M461 177h1M469 177h1M473 177h1M479 177h1M484 177h1M494 177h1M432 178h2M440 178h2M444 178h1M451 178h1M453 178h1M456 178h1M459 178h2M468 178h1M473 178h1M492 178h1M512 178h1M431 179h1M433 179h1M435 179h1M437 179h1M439 179h1M443 179h1M445 179h7M453 179h1M455 179h4M460 179h1M464 179h1M431 180h1M435 180h2M441 180h1M443 180h1M446 180h2M450 180h2M455 180h1M457 180h3M462 180h1M466 180h1M480 180h3M435 181h1M437 181h1M440 181h2M443 181h2M447 181h1M449 181h2M453 181h1M497 181h1M515 181h1M434 182h1M437 182h1M441 182h1M444 182h3M450 182h1M432 183h1M441 183h3M449 183h2M452 183h5M471 183h1M510 183h1M435 184h1M441 184h2M451 184h1M454 184h3M467 184h1M432 185h1M435 185h3M445 185h2M450 185h1M454 185h3M461 185h1M464 185h1M488 185h1M433 186h1M436 186h1M438 186h1M446 186h1M451 186h1M457 186h1M434 187h2M437 187h1M439 187h3M454 187h3M459 187h1M475 187h1M436 188h2M442 188h1M445 188h1M448 188h1M466 188h2M431 189h1M433 189h1M439 189h2M442 189h1M447 189h4M453 189h1M466 189h1M436 190h3M441 190h2M445 190h1M449 190h1M451 190h2M482 190h1M492 190h1M433 191h1M435 191h1M443 191h1M454 191h1M458 191h1M440 192h1M443 192h1M447 192h1M452 192h1M456 192h1M464 192h1M510 192h1M434 193h2M444 193h1M452 193h1M459 193h1M465 193h2M480 193h1M492 193h1M509 193h1M431 194h2M434 194h1M436 194h1M438 194h3M442 194h1M449 194h1M453 194h1M435 195h4M441 195h1M451 195h1M456 195h1M470 195h1M431 196h2M435 196h1M444 196h3M476 196h1M514 196h1M432 197h1M436 197h1M438 197h2M442 197h1M454 197h1M459 197h2M467 197h1M481 197h1M485 197h1M511 197h1M433 198h1M440 198h1M443 198h1M447 198h1M450 198h1M452 198h1M493 198h1M431 199h1M435 199h1M437 199h3M443 199h1M448 199h2M451 199h1M457 199h1M464 199h1M469 199h1M474 199h1M489 199h1M447 200h1M453 200h2M479 200h1M497 200h1M501 200h1M432 201h1M435 201h1M439 201h1M441 201h1M444 201h1M447 201h1M450 201h3M486 201h1M431 202h1M451 202h1M455 202h1M466 202h1M508 202h1M446 203h1M449 203h2M452 203h1M458 203h1M463 203h1M476 203h1M442 204h1M446 204h1M448 204h1M503 204h1M439 206h1M444 207h1M482 208h2M495 209h1M512 209h1M446 210h1M452 210h1M458 210h1M470 210h1M492 210h1M497 210h1M445 211h2M462 211h1M491 211h1M441 212h1M492 213h1M449 214h1M464 215h1M452 217h1M473 217h1M499 217h1M442 218h1M446 219h1M472 219h1M481 219h1M486 219h1M440 220h1M466 221h1M474 221h1" stroke="#d0d0d0" stroke-width="1" fill="none" transform="translate(0 .5)"/>
<path d="M451 148h1M482 149h1M486 149h1M452 150h1M459 150h1M444 151h2M447 151h1M453 151h2M457 151h1M459 151h1M472 151h1M488 151h2M498 151h1M500 151h1M431 152h1M439 152h1M446 152h1M450 152h1M459 152h1M468 152h1M489 152h2M494 152h2M433 153h1M435 153h2M440 153h3M444 153h1M447 153h2M455 153h2M464 153h1M477 153h1M488 153h1M494 153h1M498 153h2M444 154h1M449 154h1M464 154h1M472 154h1M476 154h1M479 154h1M487 154h2M492 154h1M494 154h1M499 154h1M502 154h1M505 154h1M507 154h1M509 154h1M438 155h1M445 155h1M449 155h1M466 155h1M477 155h1M479 155h1M485 155h2M488 155h2M497 155h1M499 155h1M502 155h1M504 155h1M506 155h1M463 156h1M465 156h1M475 156h2M480 156h1M483 156h1M485 156h2M500 156h1M502 156h1M466 157h1M469 157h3M475 157h1M480 157h2M483 157h1M503 157h1M506 157h1M511 157h1M466 158h2M480 158h1M505 158h1M510 158h1M463 159h1M465 159h2M477 159h1M480 159h1M484 159h1M493 159h1M505 159h1M507 159h2M466 160h1M471 160h1M479 160h2M482 160h1M501 160h1M466 161h2M472 161h2M496 161h1M501 161h1M466 162h1M473 162h1M478 162h1M482 162h1M484 162h2M499 162h1M503 162h1M505 162h2M469 163h1M473 163h1M484 163h1M490 163h1M504 163h2M468 164h1M473 164h1M475 164h1M478 164h1M483 164h1M490 164h1M504 164h1M507 164h1M510 164h1M440 165h1M469 165h2M473 165h1M475 165h1M477 165h2M481 165h1M483 165h2M486 165h1M501 165h1M472 166h1M478 166h1M489 166h2M503 166h2M461 167h1M464 167h1M466 167h1M471 167h1M473 167h1M476 167h1M479 167h1M482 167h1M486 167h2M492 167h1M499 167h1M501 167h1M504 167h1M436 168h1M461 168h1M463 168h3M467 168h2M480 168h1M483 168h1M487 168h1M491 168h1M495 168h2M438 169h3M446 169h1M471 169h1M488 169h3M499 169h1M432 170h1M437 170h1M444 170h1M452 170h1M466 170h1M476 170h2M484 170h1M495 170h1M498 170h1M435 171h1M442 171h1M452 171h1M454 171h2M458 171h3M465 171h1M477 171h1M488 171h1M492 171h1M436 172h1M441 172h1M447 172h1M453 172h1M458 172h1M460 172h2M466 172h1M488 172h1M433 173h1M435 173h1M437 173h1M442 173h2M450 173h1M456 173h1M468 173h1M482 173h1M431 174h1M433 174h1M435 174h1M437 174h2M440 174h2M445 174h1M447 174h2M456 174h1M458 174h1M461 174h1M464 174h1M431 175h1M434 175h1M437 175h1M439 175h1M441 175h1M444 175h1M447 175h1M452 175h1M456 175h2M459 175h1M433 176h1M436 176h1M448 176h1M450 176h2M459 176h1M461 176h1M432 177h1M435 177h1M437 177h1M442 177h3M458 177h1M434 178h3M445 178h2M449 178h1M458 178h1M432 179h1M432 180h2M438 180h2M449 180h1M431 181h1M434 181h1M436 181h1M438 181h1M452 181h1M455 181h1M459 181h1M431 182h3M436 182h1M438 182h2M442 182h1M448 182h1M454 182h1M438 183h2M459 183h1M463 183h1M432 184h2M437 184h4M443 184h2M447 184h2M431 185h1M441 185h1M443 185h1M449 185h1M434 186h1M437 186h1M442 186h1M444 186h1M447 186h1M453 186h2M431 187h2M436 187h1M453 187h1M431 188h1M446 188h1M450 188h1M452 188h1M435 189h1M443 189h2M434 190h2M439 190h1M446 190h1M434 191h1M436 191h1M438 191h1M444 191h1M452 191h1M433 192h1M439 192h1M441 192h1M445 192h2M448 192h1M454 192h2M437 193h1M439 193h1M451 193h1M463 193h1M451 194h1M443 195h1M445 197h1M447 197h1M435 198h1M440 199h1M446 199h1M473 201h1M435 202h1M453 205h1" stroke="#a0a0a0" stroke-width="1" fill="none" transform="translate(0 .5)"/>
<path d="M453 148h1M433 151h1M446 151h1M450 151h1M456 151h1M461 151h1M432 152h1M437 152h1M451 152h1M453 152h1M458 152h1M464 152h1M486 152h1M434 153h1M437 153h1M446 153h1M451 153h1M453 153h2M459 153h2M466 153h1M468 153h2M486 153h1M495 153h1M433 154h1M446 154h1M454 154h1M465 154h1M469 154h1M482 154h1M491 154h1M495 154h1M503 154h1M433 155h1M441 155h2M451 155h1M455 155h2M458 155h1M469 155h1M474 155h1M480 155h1M482 155h1M484 155h1M491 155h1M496 155h1M501 155h1M436 156h1M441 156h1M445 156h2M456 156h1M470 156h1M473 156h1M482 156h1M493 156h1M501 156h1M437 157h1M446 157h1M462 157h1M465 157h1M484 157h1M493 157h1M497 157h1M499 157h2M508 157h1M470 158h1M472 158h1M474 158h1M481 158h1M483 158h1M487 158h1M499 158h1M503 158h1M431 159h1M464 159h1M469 159h1M472 159h2M482 159h2M488 159h1M501 159h1M503 159h2M468 160h1M470 160h1M499 160h1M506 160h1M508 160h1M444 161h1M465 161h1M468 161h1M474 161h1M482 161h1M495 161h1M500 161h1M502 161h1M506 161h1M470 162h1M479 162h1M486 162h1M497 162h1M501 162h2M507 162h1M467 163h1M470 163h1M476 163h1M478 163h1M492 163h1M494 163h2M501 163h1M506 163h1M464 164h1M470 164h1M472 164h1M476 164h2M480 164h1M489 164h1M496 164h2M500 164h1M431 165h1M468 165h1M472 165h1M474 165h1M487 165h2M491 165h1M495 165h3M499 165h1M431 166h1M488 166h1M493 166h2M502 166h1M440 167h1M460 167h1M472 167h1M475 167h1M480 167h1M497 167h1M500 167h1M431 168h1M443 168h1M449 168h1M455 168h1M473 168h2M481 168h1M498 168h1M431 169h1M437 169h1M441 169h1M448 169h1M450 169h1M452 169h1M454 169h2M457 169h2M460 169h1M465 169h2M433 170h1M438 170h1M442 170h1M451 170h1M455 170h1M461 170h1M434 171h1M436 171h1M440 171h1M451 171h1M433 172h1M435 172h1M446 172h1M448 172h1M452 172h1M455 172h1M438 173h1M449 173h1M459 173h1M436 174h1M443 174h2M446 174h1M457 174h1M442 175h1M450 175h1M460 175h1M438 176h1M440 176h2M436 177h1M439 177h2M457 177h1M439 178h1M447 178h1M434 179h1M436 179h1M438 179h1M440 179h1M442 179h1M444 179h1M434 180h1M437 180h1M444 180h2M432 181h1M439 181h1M442 181h1M443 182h1M434 183h1M445 183h1M447 183h1M445 184h1M442 185h1M449 186h1M452 186h1M438 187h1M442 187h1M444 187h1M434 188h1M438 188h1M443 188h1M432 189h1M441 191h1M455 191h1M436 192h1M449 192h1M434 200h1" stroke="#646464" stroke-width="1" fill="none" transform="translate(0 .5)"/>
<path d="M440 151h1M449 151h1M435 152h1M438 152h1M445 152h1M454 152h2M461 152h1M439 153h1M443 153h1M445 153h1M449 153h2M452 153h1M458 153h1M463 153h1M465 153h1M432 154h1M434 154h8M447 154h2M450 154h2M453 154h1M455 154h4M460 154h2M490 154h1M493 154h1M496 154h1M432 155h1M434 155h4M439 155h2M443 155h2M446 155h2M450 155h1M452 155h3M457 155h1M459 155h4M464 155h1M467 155h1M471 155h1M483 155h1M487 155h1M490 155h1M492 155h4M498 155h1M500 155h1M503 155h1M432 156h4M437 156h4M442 156h3M447 156h9M457 156h6M467 156h1M479 156h1M481 156h1M487 156h2M490 156h3M494 156h6M431 157h6M438 157h8M447 157h15M463 157h2M468 157h1M476 157h1M478 157h1M482 157h1M485 157h8M494 157h3M498 157h1M501 157h1M504 157h1M431 158h34M469 158h1M477 158h3M482 158h1M484 158h3M488 158h11M500 158h2M504 158h1M506 158h1M432 159h31M467 159h2M471 159h1M475 159h2M478 159h2M481 159h1M485 159h3M489 159h4M494 159h7M502 159h1M431 160h35M467 160h1M469 160h1M472 160h3M476 160h2M481 160h1M483 160h16M500 160h1M502 160h2M431 161h13M445 161h20M469 161h3M475 161h2M478 161h4M483 161h12M497 161h3M431 162h35M471 162h2M474 162h1M476 162h2M480 162h2M483 162h1M487 162h10M498 162h1M500 162h1M431 163h36M468 163h1M471 163h1M475 163h1M477 163h1M479 163h5M485 163h5M491 163h1M493 163h1M496 163h5M503 163h1M431 164h33M465 164h2M469 164h1M474 164h1M479 164h1M481 164h2M485 164h4M491 164h5M498 164h2M501 164h3M505 164h1M432 165h8M441 165h26M471 165h1M476 165h1M485 165h1M490 165h1M492 165h3M498 165h1M432 166h31M464 166h1M467 166h1M471 166h1M473 166h1M480 166h3M484 166h4M491 166h2M495 166h1M499 166h1M431 167h9M441 167h6M448 167h12M462 167h2M467 167h1M470 167h1M488 167h2M495 167h1M433 168h3M437 168h6M444 168h5M450 168h5M456 168h5M462 168h1M484 168h2M432 169h1M435 169h1M442 169h4M447 169h1M449 169h1M453 169h1M456 169h1M459 169h1M461 169h2M464 169h1M431 170h1M434 170h3M439 170h1M441 170h1M443 170h1M445 170h1M447 170h4M453 170h2M456 170h5M437 171h1M439 171h1M441 171h1M448 171h3M453 171h1M456 171h2M437 172h2M442 172h4M449 172h1M440 173h1M445 173h3M434 174h1M435 175h1M437 176h1M446 176h1M448 178h1M441 179h1M440 180h1M444 183h1M439 186h2" stroke="#222222" stroke-width="1" fill="none" transform="translate(0 .5)"/>
</g>
<line x1="464.9" y1="139.2" x2="464.9" y2="222.3" stroke="#1a1a1a" stroke-width="1.3"/>
<line x1="430.8" y1="173.3" x2="516.2" y2="173.3" stroke="#1a1a1a" stroke-width="1.3"/>
<rect x="430.8" y="139.2" width="85.4" height="83.1" fill="none" stroke="#1a1a1a" stroke-width="1.6"/>
<text transform="translate(433.80 149.80) scale(1.0605 1)" fill="#1a1a1a" stroke="#1a1a1a" stroke-width="0.18"><tspan x="-0.49 4.87" y="0.00" font-size="9.64">78</tspan></text>
<text transform="translate(503.30 149.20) scale(0.9730 1)" fill="#1a1a1a" stroke="#1a1a1a" stroke-width="0.18"><tspan x="-0.48 4.87" y="0.00" font-size="9.64">21</tspan></text>
<text transform="translate(434.00 219.30) scale(0.8792 1)" fill="#1a1a1a" stroke="#1a1a1a" stroke-width="0.18"><tspan x="-0.72" y="0.00" font-size="9.50">1</tspan></text>
<text transform="translate(503.30 219.30) scale(0.9891 1)" fill="#1a1a1a" stroke="#1a1a1a" stroke-width="0.18"><tspan x="-0.45 4.93" y="0.00" font-size="9.22">&lt;1</tspan></text>
<text transform="translate(356.60 235.20) scale(0.9385 1)" fill="#1a1a1a" stroke="#1a1a1a" stroke-width="0.18"><tspan x="-0.50 6.66 12.17 19.89 23.19 29.25 32.00 38.61 44.13 46.88 50.19 55.70" y="0.00" font-size="9.92">C3G-F/B6 (2)</tspan></text>
<text transform="translate(441.20 234.90) scale(0.9403 1)" fill="#1a1a1a" stroke="#1a1a1a" stroke-width="0.18"><tspan x="-0.50 6.66 12.17 19.89 23.19 29.25 32.00 38.61 44.13 46.88 50.19 55.70" y="0.00" font-size="9.92">C3G-F/B6 (3)</tspan></text>
<g filter="url(#sb)">
<path d="M343 238h1M367 238h1M414 238h1M379 239h1M409 239h1M363 240h1M378 240h1M366 241h1M373 241h2M378 241h1M381 241h1M367 242h1M408 242h1M391 243h1M404 243h1M343 244h1M389 244h1M410 244h1M404 245h1M406 245h1M366 246h1M398 246h1M405 246h1M408 246h1M410 246h1M389 247h1M408 247h1M410 247h1M353 248h1M398 248h1M402 248h1M404 248h2M407 248h1M370 249h1M372 249h1M374 249h1M379 249h1M384 249h1M386 249h1M389 249h1M396 249h2M403 249h1M406 249h1M408 249h3M359 250h1M371 250h1M393 250h1M399 250h1M406 250h3M423 250h1M352 251h1M375 251h1M386 251h1M396 251h1M401 251h1M407 251h2M410 251h1M413 251h1M349 252h1M375 252h1M384 252h1M388 252h1M401 252h2M412 252h1M343 253h1M350 253h1M360 253h1M367 253h2M370 253h1M372 253h1M387 253h2M394 253h1M398 253h1M400 253h1M406 253h1M408 253h1M423 253h1M349 254h2M368 254h1M375 254h1M379 254h1M382 254h3M389 254h1M397 254h8M409 254h1M346 255h1M358 255h1M364 255h1M377 255h2M381 255h4M387 255h1M391 255h1M393 255h1M398 255h1M400 255h1M408 255h1M346 256h1M348 256h1M350 256h1M360 256h1M366 256h1M369 256h1M371 256h1M373 256h1M375 256h1M378 256h3M384 256h1M386 256h1M388 256h1M392 256h1M394 256h1M397 256h1M400 256h1M402 256h1M406 256h1M352 257h1M358 257h1M364 257h1M367 257h2M370 257h1M373 257h1M375 257h1M381 257h2M384 257h3M388 257h3M398 257h1M401 257h1M403 257h1M344 258h1M346 258h1M349 258h1M352 258h1M355 258h1M365 258h2M368 258h6M375 258h2M380 258h1M385 258h1M388 258h1M391 258h1M397 258h1M403 258h1M345 259h2M348 259h1M358 259h1M364 259h2M367 259h1M378 259h2M381 259h1M386 259h1M390 259h1M392 259h1M399 259h2M345 260h1M348 260h1M350 260h2M358 260h2M361 260h1M364 260h2M368 260h6M381 260h4M387 260h1M391 260h2M398 260h1M346 261h4M352 261h1M356 261h1M359 261h1M361 261h2M365 261h1M370 261h2M374 261h2M377 261h1M382 261h1M385 261h1M388 261h5M395 261h2M345 262h2M349 262h1M352 262h2M359 262h1M362 262h2M375 262h4M381 262h2M384 262h1M389 262h1M392 262h1M396 262h1M398 262h1M401 262h1M349 263h2M354 263h1M358 263h1M360 263h1M362 263h2M366 263h2M369 263h1M371 263h1M373 263h1M379 263h1M383 263h1M386 263h2M390 263h1M392 263h2M399 263h1M403 263h1M423 263h1M344 264h1M347 264h2M351 264h1M355 264h1M357 264h1M366 264h2M372 264h2M376 264h1M381 264h1M384 264h1M386 264h1M388 264h1M391 264h1M396 264h1M425 264h1M346 265h1M352 265h2M362 265h4M370 265h1M372 265h1M375 265h1M377 265h1M384 265h1M392 265h4M397 265h1M399 265h1M403 265h1M421 265h1M424 265h2M345 266h1M352 266h2M358 266h2M363 266h1M371 266h1M373 266h1M377 266h1M379 266h1M387 266h1M390 266h2M395 266h2M398 266h3M424 266h2M346 267h2M349 267h1M355 267h1M359 267h2M362 267h1M365 267h3M371 267h1M377 267h1M381 267h1M386 267h1M390 267h1M392 267h1M394 267h5M404 267h1M417 267h1M421 267h3M346 268h3M351 268h1M355 268h1M359 268h1M369 268h1M372 268h1M374 268h1M382 268h1M384 268h1M386 268h1M392 268h2M395 268h1M397 268h1M400 268h1M403 268h1M414 268h1M417 268h1M419 268h2M423 268h1M357 269h2M363 269h2M366 269h1M373 269h1M392 269h1M396 269h3M400 269h2M403 269h1M415 269h1M418 269h2M421 269h1M424 269h2M344 270h1M353 270h1M360 270h1M363 270h1M367 270h1M370 270h1M373 270h1M377 270h1M390 270h1M392 270h1M395 270h1M397 270h1M399 270h2M402 270h1M404 270h1M412 270h2M415 270h1M417 270h3M422 270h2M343 271h1M350 271h4M355 271h1M362 271h1M377 271h1M385 271h1M389 271h1M393 271h2M401 271h1M403 271h3M407 271h1M413 271h2M418 271h1M421 271h2M344 272h1M352 272h1M354 272h2M362 272h2M372 272h1M383 272h1M389 272h1M399 272h1M403 272h2M414 272h3M349 273h1M352 273h1M362 273h2M367 273h1M370 273h2M382 273h1M388 273h1M392 273h1M400 273h1M407 273h1M412 273h1M418 273h2M343 274h2M348 274h1M357 274h1M360 274h1M366 274h2M370 274h2M393 274h2M400 274h1M403 274h3M407 274h1M411 274h1M417 274h1M421 274h1M344 275h1M347 275h1M352 275h1M357 275h1M374 275h2M377 275h1M381 275h1M386 275h1M391 275h1M396 275h1M411 275h1M413 275h1M346 276h1M350 276h1M355 276h1M357 276h1M360 276h1M365 276h3M370 276h2M376 276h1M378 276h1M380 276h1M392 276h1M394 276h1M412 276h1M419 276h2M350 277h1M361 277h1M365 277h1M368 277h1M370 277h1M378 277h1M400 277h1M407 277h1M417 277h1M347 278h1M349 278h1M353 278h1M357 278h1M360 278h5M367 278h2M383 278h2M346 279h2M352 279h3M356 279h1M361 279h1M364 279h1M366 279h1M373 279h1M379 279h1M387 279h1M403 279h1M345 280h1M355 280h1M357 280h3M365 280h1M368 280h2M371 280h1M377 280h1M411 280h1M350 281h2M353 281h1M366 281h1M373 281h1M377 281h1M379 281h1M391 281h1M355 282h1M360 282h1M368 282h1M378 282h1M381 282h1M391 282h1M405 282h1M407 282h1M355 283h2M358 283h2M363 283h1M374 283h1M382 283h1M405 283h1M412 283h1M344 284h1M351 284h1M356 284h2M361 284h1M363 284h1M366 284h1M369 284h1M371 284h1M383 284h1M386 284h1M346 285h1M353 285h2M363 285h1M367 285h1M374 285h1M379 285h1M354 286h2M359 286h1M364 286h2M379 286h1M382 286h1M343 287h1M345 287h1M349 287h1M359 287h1M368 287h1M389 287h1M345 288h1M350 288h2M358 288h2M368 288h2M377 288h1M351 289h1M355 289h1M364 289h1M368 289h1M371 289h1M377 289h1M352 290h1M354 290h2M358 290h1M384 290h1M349 291h1M351 291h1M353 291h1M379 291h1M384 291h1M352 292h1M370 292h1M373 292h2M345 293h1M350 293h1M361 293h1M364 293h1M366 293h1M370 293h1M381 293h1M400 293h1M417 293h1M425 293h1M354 294h1M358 294h1M377 294h1M388 294h1M403 294h1M352 295h1M357 295h1M359 295h1M364 295h1M348 296h1M363 296h1M376 296h1M384 296h1M407 296h1M422 296h1M350 297h1M358 297h1M361 297h1M375 297h1M419 297h1M425 297h1M370 298h1M381 298h1M392 298h2M418 298h1M356 299h1M371 299h1M379 299h1M385 299h1M408 299h1M355 300h1M368 300h1M375 300h1M382 300h1M407 300h1M351 301h1M377 301h1M389 301h1M386 302h1M414 302h1M353 303h1M366 303h1M369 303h1M405 303h1M345 304h1M352 304h1M357 304h1M372 304h1M375 304h1M380 304h1M403 304h1M413 304h1M416 304h1M418 304h1M363 305h1M366 305h1M375 305h1M394 305h1M397 305h1M399 305h1M383 306h1M391 306h1M394 306h1M360 307h1M386 307h1M368 308h1M380 308h1M387 308h1M413 309h1M369 310h1M377 310h1M352 311h1M414 311h1M384 312h1M397 312h1M405 312h1M377 313h1M371 314h1M393 314h1M416 314h1M364 315h1M366 316h1M392 316h1M411 316h1M386 317h1M390 317h1M406 318h1M415 318h1M355 319h1M360 319h1M364 319h1M372 319h1M417 319h1" stroke="#d0d0d0" stroke-width="1" fill="none" transform="translate(0 .5)"/>
<path d="M402 247h1M397 250h1M413 250h3M417 250h1M419 250h1M424 250h1M388 251h1M399 251h1M402 251h1M414 251h3M425 251h1M380 252h1M395 252h1M398 252h1M405 252h1M407 252h1M417 252h1M424 252h1M381 253h1M392 253h1M396 253h1M403 253h1M407 253h1M409 253h1M411 253h1M422 253h1M364 254h1M374 254h1M381 254h1M390 254h1M396 254h1M406 254h1M372 255h1M385 255h1M403 255h1M405 255h1M425 255h1M381 256h1M398 256h1M408 256h1M424 256h1M361 257h3M371 257h2M380 257h1M387 257h1M392 257h1M394 257h1M396 257h1M399 257h2M402 257h1M423 257h1M348 258h1M351 258h1M357 258h1M374 258h1M383 258h1M389 258h1M393 258h2M399 258h1M404 258h1M347 259h1M351 259h1M353 259h2M368 259h1M371 259h1M373 259h1M376 259h2M380 259h1M387 259h1M391 259h1M393 259h1M395 259h4M402 259h1M405 259h1M425 259h1M346 260h1M349 260h1M354 260h1M360 260h1M367 260h1M374 260h3M378 260h1M380 260h1M385 260h1M388 260h1M390 260h1M394 260h1M400 260h1M404 260h1M406 260h1M425 260h1M354 261h1M358 261h1M367 261h1M372 261h2M378 261h1M380 261h1M384 261h1M387 261h1M393 261h2M397 261h2M404 261h1M424 261h1M350 262h2M358 262h1M361 262h1M364 262h1M366 262h4M372 262h1M383 262h1M390 262h1M397 262h1M404 262h1M423 262h1M344 263h1M348 263h1M352 263h2M359 263h1M364 263h2M370 263h1M377 263h1M385 263h1M396 263h1M408 263h1M420 263h2M350 264h1M354 264h1M358 264h1M364 264h2M371 264h1M377 264h1M379 264h1M389 264h1M392 264h1M394 264h1M397 264h1M401 264h1M345 265h1M350 265h1M355 265h3M361 265h1M378 265h1M386 265h1M398 265h1M402 265h1M422 265h1M348 266h3M357 266h1M365 266h1M382 266h1M388 266h2M401 266h3M411 266h1M418 266h2M353 267h1M376 267h1M380 267h1M387 267h1M399 267h1M406 267h1M413 267h2M416 267h1M420 267h1M424 267h1M385 268h1M399 268h1M401 268h1M405 268h5M415 268h1M351 269h1M394 269h1M404 269h2M408 269h2M411 269h1M413 269h2M368 270h1M405 270h3M409 270h3M414 270h1M364 271h1M410 271h1M412 271h1M416 271h1M369 272h1M401 272h1M409 273h1M411 273h1M409 274h1M354 275h1M366 275h1M407 276h1M363 277h1M381 277h1M348 278h1M362 280h1M358 282h2M374 282h1M357 283h1M356 285h1M355 287h1M363 287h1M386 291h1M360 294h1M424 307h1" stroke="#a0a0a0" stroke-width="1" fill="none" transform="translate(0 .5)"/>
<path d="M410 250h2M416 250h1M418 250h1M421 250h2M425 250h1M411 251h2M418 251h3M418 252h1M422 252h2M425 252h1M402 253h1M415 253h1M387 254h1M408 254h1M412 254h1M422 254h1M399 255h1M402 255h1M404 255h1M412 255h1M419 255h1M393 256h1M344 257h1M395 257h1M417 257h1M356 258h1M377 258h1M387 258h1M392 258h1M398 258h1M401 258h1M349 259h1M355 259h1M363 259h1M369 259h1M382 259h1M384 259h1M389 259h1M401 259h1M403 259h1M406 259h1M352 260h1M389 260h1M397 260h1M401 260h1M355 261h1M357 261h1M366 261h1M381 261h1M399 261h2M360 262h1M374 262h1M379 262h1M385 262h1M400 262h1M402 262h1M424 262h1M357 263h1M381 263h2M398 263h1M400 263h3M425 263h1M359 264h1M363 264h1M368 264h1M398 264h2M411 264h1M359 265h1M368 265h1M373 265h1M396 265h1M400 265h1M416 265h1M420 265h1M423 265h1M356 266h1M369 266h1M397 266h1M410 266h1M423 266h1M352 267h1M402 267h1M405 267h1M409 267h1M418 267h2M354 268h1M396 268h1M404 268h1M410 268h1M412 268h2M418 268h1M399 269h1M406 269h2M410 269h1M422 269h1M408 270h1M358 271h1M411 271h1M353 272h1M379 272h1M370 290h1" stroke="#646464" stroke-width="1" fill="none" transform="translate(0 .5)"/>
<path d="M412 250h1M420 250h1M417 251h1M421 251h3M409 252h2M413 252h4M419 252h3M410 253h1M412 253h3M416 253h6M424 253h1M405 254h1M407 254h1M410 254h2M413 254h9M423 254h3M406 255h2M409 255h3M413 255h6M420 255h5M401 256h1M403 256h3M407 256h1M409 256h15M425 256h1M391 257h1M404 257h13M418 257h5M424 257h2M402 258h1M405 258h21M360 259h1M404 259h1M407 259h18M362 260h1M399 260h1M402 260h2M405 260h1M407 260h18M350 261h1M368 261h1M376 261h1M379 261h1M401 261h3M405 261h19M425 261h1M394 262h2M403 262h1M405 262h18M425 262h1M395 263h1M397 263h1M404 263h4M409 263h11M422 263h1M424 263h1M369 264h1M400 264h1M402 264h9M412 264h11M424 264h1M360 265h1M401 265h1M404 265h12M417 265h3M404 266h6M412 266h6M420 266h2M401 267h1M403 267h1M407 267h2M410 267h3M415 267h1M398 268h1M411 268h1M402 271h1" stroke="#222222" stroke-width="1" fill="none" transform="translate(0 .5)"/>
</g>
<line x1="381.5" y1="237.2" x2="381.5" y2="321.0" stroke="#1a1a1a" stroke-width="1.3"/>
<line x1="342.6" y1="269.2" x2="426.6" y2="269.2" stroke="#1a1a1a" stroke-width="1.3"/>
<rect x="342.6" y="237.2" width="84.0" height="83.8" fill="none" stroke="#1a1a1a" stroke-width="1.6"/>
<text transform="translate(345.20 248.00) scale(0.9816 1)" fill="#1a1a1a" stroke="#1a1a1a" stroke-width="0.18"><tspan x="-0.49" y="0.00" font-size="9.64">7</tspan></text>
<text transform="translate(412.70 248.00) scale(1.1340 1)" fill="#1a1a1a" stroke="#1a1a1a" stroke-width="0.18"><tspan x="-0.42 4.94" y="0.00" font-size="9.64">86</tspan></text>
<text transform="translate(345.20 317.70) scale(0.9411 1)" fill="#1a1a1a" stroke="#1a1a1a" stroke-width="0.18"><tspan x="-0.39" y="0.00" font-size="9.64">5</tspan></text>
<text transform="translate(419.60 317.70) scale(1.0022 1)" fill="#1a1a1a" stroke="#1a1a1a" stroke-width="0.18"><tspan x="-0.48" y="0.00" font-size="9.64">2</tspan></text>
<g filter="url(#sb)">
<path d="M451 238h1M456 238h1M462 238h1M466 238h1M468 238h1M485 238h1M488 238h1M504 238h1M439 239h1M456 239h1M464 239h2M475 239h1M477 239h1M494 239h1M466 240h1M486 240h1M496 240h1M431 241h1M451 241h1M457 241h1M472 241h1M486 241h1M501 241h2M449 242h1M452 243h1M464 243h1M466 243h1M471 243h1M492 243h2M497 243h1M504 243h1M448 245h1M450 245h1M457 246h1M480 246h1M503 246h1M444 247h1M482 247h1M485 247h1M441 248h1M455 248h1M464 248h1M478 248h1M487 248h1M494 248h1M499 248h1M502 248h2M514 248h1M432 249h1M440 249h1M443 249h2M458 249h1M464 249h1M468 249h1M477 249h1M495 249h1M432 250h1M447 250h1M452 250h1M462 250h1M478 250h1M487 250h1M502 250h1M508 250h1M511 250h1M460 251h1M469 251h1M475 251h1M484 251h1M486 251h1M494 251h1M496 251h1M500 251h2M506 251h1M511 251h1M435 252h1M444 252h1M451 252h1M456 252h1M479 252h1M485 252h1M495 252h1M497 252h1M505 252h1M508 252h1M513 252h1M438 253h1M459 253h1M475 253h1M481 253h1M492 253h1M504 253h2M512 253h1M433 254h1M441 254h2M450 254h1M457 254h1M474 254h2M485 254h2M490 254h1M494 254h1M505 254h1M507 254h1M437 255h1M451 255h1M473 255h1M475 255h1M479 255h1M482 255h2M487 255h1M489 255h1M491 255h1M494 255h1M497 255h1M507 255h1M513 255h2M441 256h1M446 256h1M461 256h1M482 256h1M484 256h1M493 256h1M498 256h1M502 256h1M504 256h1M507 256h1M510 256h1M435 257h1M444 257h2M453 257h1M465 257h1M471 257h1M476 257h1M484 257h2M487 257h1M494 257h1M496 257h4M437 258h1M445 258h2M458 258h1M473 258h1M482 258h1M485 258h3M492 258h1M497 258h1M499 258h3M443 259h1M449 259h1M451 259h1M456 259h1M466 259h1M470 259h1M481 259h2M486 259h1M488 259h1M491 259h1M498 259h3M502 259h1M508 259h1M434 260h1M442 260h1M462 260h1M469 260h1M471 260h1M473 260h1M482 260h2M486 260h1M490 260h1M497 260h2M506 260h1M508 260h2M514 260h1M449 261h1M461 261h1M465 261h1M472 261h1M475 261h1M480 261h2M498 261h1M502 261h1M505 261h1M508 261h1M431 262h1M441 262h1M444 262h1M448 262h1M451 262h1M453 262h1M455 262h2M463 262h1M465 262h1M476 262h2M480 262h1M482 262h2M489 262h1M492 262h2M497 262h1M500 262h1M502 262h3M506 262h2M513 262h1M448 263h1M456 263h1M459 263h2M465 263h2M470 263h1M473 263h1M476 263h1M478 263h1M485 263h1M487 263h1M492 263h2M500 263h1M502 263h1M504 263h4M434 264h1M446 264h1M459 264h1M463 264h2M467 264h1M472 264h1M476 264h1M479 264h2M489 264h1M491 264h1M494 264h1M505 264h1M508 264h4M441 265h1M448 265h1M450 265h1M453 265h2M457 265h1M464 265h3M468 265h1M474 265h1M476 265h2M483 265h1M489 265h1M494 265h2M497 265h1M500 265h1M502 265h1M505 265h1M507 265h1M511 265h3M431 266h1M434 266h1M447 266h1M455 266h1M460 266h3M464 266h1M466 266h1M469 266h2M474 266h2M477 266h2M485 266h1M493 266h1M496 266h1M501 266h3M431 267h2M436 267h2M439 267h1M441 267h2M446 267h2M451 267h3M458 267h2M461 267h1M463 267h1M465 267h1M470 267h1M473 267h1M475 267h1M482 267h1M484 267h1M491 267h1M493 267h1M495 267h2M502 267h1M506 267h2M514 267h1M431 268h1M433 268h1M436 268h1M443 268h1M446 268h1M450 268h1M453 268h1M455 268h1M458 268h1M461 268h2M464 268h1M466 268h1M468 268h2M473 268h1M476 268h1M481 268h2M499 268h1M514 268h1M441 269h2M444 269h1M450 269h1M452 269h2M468 269h1M473 269h2M478 269h1M483 269h2M489 269h1M491 269h1M499 269h1M509 269h1M512 269h2M436 270h1M449 270h2M452 270h1M454 270h1M456 270h1M459 270h1M465 270h2M470 270h2M481 270h1M496 270h1M502 270h1M432 271h1M434 271h1M439 271h1M441 271h1M444 271h1M448 271h1M453 271h4M458 271h2M461 271h1M466 271h1M470 271h1M479 271h1M481 271h1M486 271h2M492 271h1M498 271h1M505 271h1M513 271h1M434 272h3M444 272h2M447 272h2M451 272h2M454 272h1M464 272h2M472 272h1M478 272h2M502 272h1M507 272h1M512 272h1M514 272h1M443 273h3M451 273h1M457 273h1M462 273h2M466 273h1M470 273h1M477 273h2M480 273h1M497 273h1M511 273h1M433 274h3M438 274h1M441 274h2M445 274h3M455 274h1M458 274h1M461 274h1M465 274h3M471 274h1M477 274h1M479 274h2M485 274h1M510 274h2M431 275h3M441 275h2M447 275h2M450 275h1M453 275h1M456 275h1M462 275h1M464 275h1M470 275h2M477 275h1M479 275h2M487 275h1M507 275h1M511 275h1M435 276h1M437 276h1M440 276h1M443 276h1M445 276h2M449 276h3M453 276h1M459 276h1M462 276h1M471 276h1M476 276h1M480 276h3M507 276h1M510 276h1M433 277h1M435 277h1M440 277h1M442 277h2M450 277h2M453 277h1M455 277h1M459 277h1M461 277h1M463 277h2M466 277h1M473 277h1M476 277h1M486 277h1M504 277h1M513 277h1M431 278h2M435 278h1M441 278h1M452 278h1M454 278h2M457 278h1M462 278h1M465 278h1M467 278h1M469 278h3M478 278h1M485 278h1M506 278h1M514 278h1M433 279h2M444 279h1M447 279h4M453 279h1M455 279h2M465 279h1M469 279h1M473 279h1M476 279h2M488 279h1M505 279h1M434 280h1M441 280h1M448 280h1M450 280h2M457 280h2M465 280h2M469 280h1M472 280h1M483 280h1M508 280h1M512 280h3M431 281h1M433 281h1M438 281h1M446 281h1M451 281h3M455 281h2M458 281h1M469 281h1M483 281h1M485 281h1M511 281h1M513 281h1M432 282h3M439 282h2M442 282h1M455 282h1M459 282h2M463 282h1M465 282h2M469 282h1M475 282h1M478 282h1M513 282h1M431 283h2M436 283h4M441 283h1M444 283h3M448 283h1M456 283h1M465 283h3M470 283h1M474 283h1M486 283h1M431 284h1M438 284h1M440 284h1M442 284h1M445 284h1M447 284h1M451 284h1M455 284h4M460 284h3M464 284h1M504 284h1M508 284h1M512 284h3M431 285h1M433 285h1M436 285h2M439 285h3M446 285h2M452 285h2M455 285h1M457 285h1M460 285h1M465 285h2M468 285h1M470 285h1M473 285h1M477 285h2M431 286h2M438 286h1M440 286h1M442 286h2M445 286h1M447 286h2M450 286h2M455 286h1M460 286h1M463 286h1M469 286h2M512 286h1M514 286h1M431 287h1M434 287h1M436 287h2M439 287h1M442 287h1M445 287h1M453 287h2M456 287h2M459 287h2M462 287h2M468 287h1M470 287h4M509 287h1M512 287h1M431 288h1M436 288h1M438 288h1M452 288h1M458 288h2M463 288h1M482 288h1M500 288h1M514 288h1M431 289h1M433 289h2M441 289h1M443 289h1M446 289h1M449 289h1M451 289h1M457 289h1M459 289h1M463 289h1M466 289h1M469 289h1M473 289h1M482 289h1M508 289h1M510 289h1M432 290h2M440 290h1M442 290h1M447 290h4M453 290h1M455 290h2M469 290h1M474 290h1M478 290h1M499 290h1M504 290h1M507 290h1M433 291h2M438 291h1M440 291h1M443 291h3M448 291h1M454 291h1M462 291h1M464 291h1M466 291h1M504 291h1M509 291h1M432 292h2M435 292h1M439 292h3M450 292h1M453 292h2M458 292h1M466 292h1M469 292h1M504 292h2M508 292h1M510 292h1M431 293h2M434 293h1M442 293h2M449 293h1M451 293h1M453 293h1M456 293h4M462 293h2M472 293h1M512 293h2M435 294h1M437 294h1M439 294h2M444 294h1M446 294h1M448 294h1M450 294h1M452 294h2M455 294h1M462 294h1M466 294h2M506 294h2M513 294h1M431 295h2M434 295h2M437 295h1M439 295h1M441 295h3M446 295h3M450 295h2M453 295h1M455 295h1M463 295h1M465 295h2M473 295h1M475 295h1M433 296h3M437 296h2M442 296h1M445 296h2M448 296h2M456 296h1M459 296h2M464 296h1M470 296h1M472 296h1M478 296h1M488 296h1M504 296h1M513 296h2M436 297h2M440 297h3M445 297h1M448 297h1M452 297h2M455 297h1M458 297h1M469 297h2M484 297h1M488 297h1M496 297h1M502 297h1M504 297h1M510 297h3M434 298h1M438 298h1M441 298h2M446 298h1M448 298h1M452 298h2M457 298h1M461 298h1M470 298h1M472 298h2M476 298h1M480 298h1M488 298h1M499 298h1M502 298h1M514 298h1M432 299h1M436 299h2M440 299h1M443 299h1M449 299h1M451 299h1M454 299h1M456 299h2M459 299h1M462 299h1M475 299h2M500 299h2M504 299h1M507 299h2M510 299h2M431 300h1M435 300h3M439 300h1M443 300h1M445 300h3M450 300h2M454 300h2M460 300h1M465 300h2M471 300h1M475 300h1M497 300h1M501 300h1M506 300h2M509 300h2M512 300h2M431 301h3M439 301h1M441 301h2M444 301h1M446 301h1M452 301h1M454 301h1M456 301h2M459 301h3M464 301h1M472 301h3M479 301h1M510 301h1M514 301h1M431 302h1M433 302h2M437 302h1M439 302h1M443 302h1M447 302h3M451 302h1M454 302h1M457 302h1M459 302h1M463 302h2M467 302h1M473 302h2M481 302h1M489 302h1M502 302h1M509 302h1M431 303h1M437 303h1M440 303h4M445 303h1M448 303h1M451 303h1M454 303h2M457 303h1M461 303h1M466 303h1M470 303h1M473 303h2M476 303h1M492 303h1M506 303h1M509 303h1M432 304h1M435 304h1M439 304h1M442 304h1M444 304h2M448 304h1M450 304h1M454 304h1M458 304h1M461 304h1M463 304h1M468 304h1M471 304h2M475 304h1M493 304h1M498 304h1M501 304h1M504 304h1M509 304h1M431 305h1M433 305h2M436 305h2M441 305h1M444 305h2M450 305h1M452 305h1M456 305h2M459 305h1M461 305h2M467 305h1M473 305h1M475 305h1M483 305h1M492 305h1M495 305h1M501 305h1M506 305h1M508 305h1M511 305h1M513 305h1M431 306h1M433 306h4M438 306h2M441 306h1M443 306h2M447 306h1M451 306h1M456 306h1M459 306h1M462 306h1M464 306h1M468 306h1M473 306h1M475 306h3M479 306h1M483 306h1M485 306h1M487 306h1M492 306h1M501 306h2M506 306h1M508 306h1M510 306h1M513 306h1M435 307h1M450 307h3M455 307h1M458 307h2M461 307h1M468 307h1M470 307h1M472 307h1M490 307h1M501 307h1M505 307h1M508 307h3M449 308h1M451 308h1M453 308h2M458 308h1M460 308h3M468 308h1M470 308h1M472 308h1M474 308h2M479 308h2M484 308h1M488 308h1M444 309h1M446 309h3M451 309h4M456 309h2M460 309h1M462 309h1M464 309h1M466 309h2M470 309h1M473 309h1M479 309h1M484 309h1M493 309h1M497 309h1M444 310h1M448 310h1M450 310h1M452 310h4M465 310h1M467 310h1M472 310h2M478 310h1M482 310h1M484 310h1M493 310h1M495 310h1M498 310h1M514 310h1M444 311h1M446 311h2M458 311h1M460 311h3M465 311h2M471 311h2M478 311h1M493 311h1M496 311h1M444 312h2M447 312h1M462 312h1M466 312h2M472 312h1M488 312h1M490 312h1M492 312h2M496 312h2M445 313h1M447 313h1M449 313h1M454 313h1M456 313h4M461 313h1M463 313h1M468 313h2M471 313h1M473 313h2M477 313h1M479 313h1M483 313h1M489 313h1M514 313h1M446 314h2M451 314h2M454 314h2M457 314h1M459 314h1M462 314h1M464 314h1M466 314h1M468 314h2M476 314h2M480 314h1M483 314h1M487 314h1M491 314h2M494 314h1M444 315h1M449 315h1M453 315h1M457 315h1M460 315h2M465 315h1M469 315h1M472 315h1M475 315h1M478 315h2M485 315h1M487 315h1M496 315h1M514 315h1M447 316h1M450 316h1M453 316h1M455 316h1M457 316h1M459 316h1M467 316h3M472 316h2M475 316h1M478 316h1M480 316h1M482 316h1M487 316h1M491 316h1M494 316h1M496 316h1M444 317h2M447 317h1M451 317h2M455 317h1M460 317h1M465 317h3M473 317h1M475 317h2M486 317h1M491 317h1M496 317h1M498 317h1M446 318h1M450 318h1M452 318h2M458 318h1M466 318h1M469 318h2M472 318h2M475 318h1M477 318h1M483 318h2M486 318h1M488 318h1M491 318h3" stroke="#d0d0d0" stroke-width="1" fill="none" transform="translate(0 .5)"/>
<path d="M445 244h1M501 252h1M509 252h1M443 253h1M461 254h1M478 254h1M489 254h1M489 256h1M495 256h2M486 257h1M500 257h1M502 257h1M479 259h1M484 259h1M493 259h1M496 259h1M510 259h1M464 260h1M489 260h1M500 260h1M489 261h3M494 261h1M497 261h1M501 261h1M485 262h1M496 262h1M508 262h1M481 263h1M484 263h1M496 263h1M499 263h1M501 263h1M503 263h1M513 263h1M431 264h1M444 264h1M469 264h1M481 264h1M483 264h1M490 264h1M493 264h1M495 264h2M498 264h2M501 264h1M503 264h1M507 264h1M436 265h1M472 265h1M482 265h1M492 265h1M496 265h1M501 265h1M503 265h1M506 265h1M442 266h1M451 266h1M472 266h1M481 266h2M486 266h1M491 266h1M495 266h1M497 266h1M499 266h2M505 266h1M512 266h1M514 266h1M433 267h1M466 267h1M468 267h1M480 267h1M483 267h1M486 267h3M490 267h1M494 267h1M499 267h1M509 267h2M440 268h1M447 268h1M449 268h1M454 268h1M456 268h1M467 268h1M485 268h1M489 268h2M497 268h2M500 268h1M503 268h1M506 268h1M508 268h1M510 268h1M512 268h1M431 269h1M435 269h1M440 269h1M454 269h1M461 269h1M465 269h1M472 269h1M477 269h1M479 269h2M485 269h1M487 269h1M493 269h1M496 269h1M500 269h1M503 269h2M510 269h2M514 269h1M432 270h1M438 270h1M441 270h1M444 270h1M446 270h1M455 270h1M473 270h4M478 270h1M483 270h1M486 270h3M498 270h1M504 270h1M506 270h1M508 270h2M513 270h1M436 271h1M438 271h1M442 271h1M451 271h1M460 271h1M462 271h2M468 271h1M472 271h1M476 271h1M480 271h1M483 271h3M504 271h1M506 271h1M510 271h2M514 271h1M432 272h1M437 272h2M453 272h1M455 272h1M459 272h3M463 272h1M471 272h1M474 272h1M476 272h1M480 272h1M486 272h2M489 272h1M503 272h1M510 272h2M433 273h1M435 273h1M437 273h1M446 273h1M450 273h1M454 273h2M458 273h1M460 273h1M464 273h1M469 273h1M473 273h1M475 273h2M479 273h1M483 273h1M490 273h1M498 273h1M504 273h1M508 273h3M431 274h1M440 274h1M448 274h1M451 274h1M456 274h1M462 274h1M464 274h1M474 274h1M481 274h1M499 274h1M508 274h1M512 274h3M434 275h3M440 275h1M443 275h1M449 275h1M454 275h2M461 275h1M463 275h1M465 275h2M469 275h1M472 275h4M481 275h1M484 275h1M512 275h2M439 276h1M442 276h1M454 276h1M457 276h2M460 276h2M465 276h1M467 276h1M472 276h1M483 276h1M502 276h1M509 276h1M511 276h2M432 277h1M452 277h1M456 277h1M458 277h1M462 277h1M468 277h2M474 277h2M479 277h1M482 277h1M507 277h1M512 277h1M434 278h1M437 278h1M440 278h1M447 278h1M449 278h1M453 278h1M459 278h1M464 278h1M468 278h1M474 278h2M480 278h1M486 278h1M438 279h1M443 279h1M451 279h1M459 279h1M463 279h1M467 279h2M472 279h1M474 279h2M506 279h2M511 279h1M514 279h1M431 280h1M436 280h1M438 280h3M446 280h2M449 280h1M454 280h3M460 280h1M462 280h1M464 280h1M470 280h1M481 280h1M510 280h2M435 281h2M441 281h1M443 281h1M447 281h1M449 281h2M462 281h1M467 281h1M475 281h1M481 281h2M507 281h1M512 281h1M514 281h1M431 282h1M435 282h1M445 282h4M450 282h1M458 282h1M461 282h2M470 282h1M472 282h1M479 282h1M487 282h1M508 282h2M512 282h1M447 283h1M449 283h1M451 283h1M454 283h1M463 283h1M473 283h1M477 283h1M507 283h1M509 283h1M512 283h1M433 284h1M439 284h1M446 284h1M448 284h2M459 284h1M468 284h2M471 284h1M479 284h1M484 284h1M492 284h1M509 284h1M511 284h1M432 285h1M435 285h1M438 285h1M444 285h1M450 285h2M459 285h1M462 285h3M472 285h1M474 285h2M510 285h2M514 285h1M436 286h1M439 286h1M441 286h1M449 286h1M453 286h1M457 286h1M461 286h2M468 286h1M475 286h1M477 286h1M507 286h1M510 286h2M513 286h1M433 287h1M438 287h1M440 287h1M444 287h1M450 287h2M464 287h1M466 287h2M474 287h1M481 287h1M510 287h1M514 287h1M437 288h1M441 288h1M443 288h1M448 288h1M460 288h1M462 288h1M473 288h1M480 288h1M503 288h1M507 288h3M511 288h1M513 288h1M436 289h1M445 289h1M456 289h1M461 289h1M464 289h1M467 289h1M471 289h1M502 289h1M511 289h1M513 289h1M437 290h1M439 290h1M444 290h1M446 290h1M452 290h1M454 290h1M459 290h1M461 290h3M470 290h2M475 290h1M490 290h1M498 290h1M505 290h1M509 290h1M513 290h2M447 291h1M449 291h3M453 291h1M456 291h2M459 291h2M469 291h2M472 291h2M476 291h1M479 291h2M483 291h1M502 291h1M506 291h1M508 291h1M512 291h1M514 291h1M431 292h1M443 292h1M446 292h1M448 292h1M455 292h2M460 292h1M468 292h1M473 292h1M486 292h1M511 292h4M448 293h1M450 293h1M465 293h1M469 293h2M475 293h1M478 293h1M481 293h1M504 293h2M508 293h1M514 293h1M432 294h3M443 294h1M451 294h1M454 294h1M456 294h1M460 294h1M470 294h2M473 294h2M478 294h1M488 294h1M505 294h1M514 294h1M444 295h2M449 295h1M458 295h1M462 295h1M469 295h1M471 295h2M474 295h1M478 295h1M500 295h1M502 295h1M511 295h1M439 296h1M443 296h1M447 296h1M450 296h1M453 296h1M455 296h1M461 296h3M467 296h1M469 296h1M471 296h1M476 296h1M479 296h1M483 296h1M485 296h1M505 296h1M431 297h3M435 297h1M443 297h1M451 297h1M456 297h1M466 297h3M471 297h1M475 297h2M478 297h2M482 297h1M507 297h2M513 297h1M433 298h1M436 298h1M439 298h1M445 298h1M449 298h2M462 298h1M465 298h2M469 298h1M471 298h1M474 298h1M477 298h3M481 298h2M489 298h1M501 298h1M508 298h1M510 298h1M513 298h1M431 299h1M433 299h1M435 299h1M438 299h1M445 299h2M455 299h1M458 299h1M466 299h2M482 299h1M484 299h1M491 299h1M505 299h2M513 299h2M433 300h1M441 300h1M448 300h1M452 300h2M456 300h2M461 300h1M473 300h1M481 300h1M487 300h1M499 300h1M505 300h1M511 300h1M436 301h1M453 301h1M465 301h1M467 301h1M469 301h3M477 301h1M492 301h1M497 301h1M504 301h2M509 301h1M512 301h1M435 302h1M440 302h1M460 302h1M462 302h1M466 302h1M470 302h3M478 302h3M485 302h1M487 302h1M490 302h1M495 302h2M499 302h1M505 302h3M513 302h1M432 303h3M449 303h2M452 303h1M458 303h3M463 303h3M475 303h1M478 303h2M481 303h1M484 303h1M491 303h1M502 303h2M508 303h1M511 303h1M514 303h1M436 304h1M438 304h1M453 304h1M457 304h1M460 304h1M462 304h1M465 304h2M470 304h1M476 304h2M488 304h1M499 304h1M502 304h1M506 304h2M512 304h1M435 305h1M438 305h2M448 305h1M453 305h1M455 305h1M463 305h1M465 305h1M469 305h1M471 305h1M477 305h1M487 305h1M497 305h1M500 305h1M502 305h1M505 305h1M512 305h1M514 305h1M432 306h1M437 306h1M440 306h1M445 306h1M452 306h4M460 306h1M467 306h1M471 306h2M474 306h1M482 306h1M484 306h1M500 306h1M505 306h1M509 306h1M512 306h1M432 307h1M436 307h1M438 307h1M443 307h3M447 307h3M457 307h1M462 307h1M464 307h1M466 307h2M471 307h1M476 307h2M481 307h1M488 307h1M491 307h2M499 307h2M502 307h1M504 307h1M445 308h1M452 308h1M457 308h1M464 308h1M467 308h1M481 308h1M485 308h1M493 308h1M497 308h2M449 309h1M459 309h1M463 309h1M468 309h2M471 309h1M475 309h1M481 309h1M489 309h2M492 309h1M495 309h1M498 309h1M449 310h1M459 310h3M463 310h1M468 310h1M470 310h1M476 310h2M480 310h1M486 310h1M489 310h1M497 310h1M448 311h1M451 311h1M455 311h1M463 311h2M467 311h2M470 311h1M477 311h1M479 311h2M484 311h1M487 311h1M489 311h1M497 311h1M450 312h1M452 312h2M456 312h1M461 312h1M463 312h3M468 312h1M475 312h2M480 312h2M483 312h2M487 312h1M494 312h2M448 313h1M451 313h1M453 313h1M455 313h1M460 313h1M465 313h1M475 313h1M481 313h2M486 313h1M488 313h1M491 313h1M493 313h1M495 313h1M498 313h1M444 314h1M458 314h1M467 314h1M471 314h1M473 314h1M478 314h2M481 314h1M489 314h1M496 314h1M498 314h1M514 314h1M446 315h1M448 315h1M450 315h1M455 315h2M458 315h1M468 315h1M470 315h1M473 315h1M480 315h1M484 315h1M488 315h1M492 315h2M495 315h1M498 315h1M446 316h1M448 316h1M451 316h1M458 316h1M465 316h1M474 316h1M476 316h1M479 316h1M484 316h3M488 316h3M493 316h1M456 317h1M461 317h1M463 317h2M472 317h1M477 317h1M480 317h2M484 317h1M487 317h1M493 317h3M497 317h1M456 318h1M459 318h3M465 318h1M474 318h1M479 318h1M481 318h1M489 318h1M514 318h1" stroke="#a0a0a0" stroke-width="1" fill="none" transform="translate(0 .5)"/>
<path d="M492 260h1M494 260h1M503 261h1M501 262h1M494 263h1M488 264h1M492 264h1M500 264h1M502 264h1M504 264h1M487 265h1M493 265h1M498 265h1M480 266h1M484 266h1M488 266h2M506 266h1M460 267h1M471 267h1M478 267h1M485 267h1M489 267h1M497 267h1M500 267h2M508 267h1M444 268h1M472 268h1M484 268h1M487 268h2M493 268h1M495 268h2M501 268h2M507 268h1M470 269h1M482 269h1M494 269h1M506 269h1M508 269h1M434 270h1M443 270h1M451 270h1M461 270h1M463 270h2M479 270h1M484 270h1M489 270h1M501 270h1M503 270h1M505 270h1M510 270h2M437 271h1M443 271h1M446 271h1M473 271h3M478 271h1M494 271h1M496 271h1M507 271h2M440 272h1M462 272h1M470 272h1M475 272h1M477 272h1M482 272h2M495 272h1M500 272h1M506 272h1M508 272h2M513 272h1M439 273h3M449 273h1M467 273h1M481 273h1M485 273h1M487 273h1M489 273h1M493 273h1M512 273h2M443 274h1M453 274h1M470 274h1M478 274h1M483 274h2M504 274h1M444 275h3M451 275h1M457 275h1M468 275h1M476 275h1M483 275h1M497 275h1M508 275h2M452 276h1M456 276h1M468 276h3M475 276h1M477 276h1M489 276h1M494 276h1M496 276h1M499 276h1M513 276h1M438 277h1M441 277h1M448 277h2M460 277h1M481 277h1M487 277h1M490 277h1M501 277h1M509 277h1M443 278h1M445 278h1M458 278h1M461 278h1M466 278h1M472 278h1M476 278h2M479 278h1M481 278h1M483 278h1M496 278h1M500 278h1M502 278h1M508 278h1M513 278h1M436 279h1M464 279h1M470 279h2M478 279h3M497 279h1M503 279h1M509 279h2M512 279h1M452 280h1M467 280h1M474 280h2M479 280h2M491 280h1M502 280h1M504 280h1M509 280h1M440 281h1M459 281h1M468 281h1M472 281h1M474 281h1M486 281h1M497 281h2M501 281h2M436 282h1M444 282h1M452 282h1M468 282h1M471 282h1M474 282h1M476 282h2M480 282h1M482 282h2M485 282h1M506 282h1M511 282h1M514 282h1M457 283h2M464 283h1M471 283h1M490 283h1M511 283h1M436 284h2M454 284h1M463 284h1M465 284h1M476 284h2M506 284h1M510 284h1M434 285h1M458 285h1M471 285h1M480 285h1M482 285h1M489 285h1M493 285h1M507 285h3M512 285h2M434 286h2M474 286h1M476 286h1M479 286h1M505 286h1M478 287h1M480 287h1M502 287h1M505 287h1M511 287h1M513 287h1M432 288h1M444 288h1M454 288h3M461 288h1M464 288h1M468 288h1M470 288h1M472 288h1M474 288h1M479 288h1M481 288h1M501 288h1M504 288h1M512 288h1M435 289h1M453 289h2M468 289h1M470 289h1M472 289h1M490 289h1M505 289h2M509 289h1M514 289h1M434 290h1M436 290h1M451 290h1M457 290h2M464 290h1M467 290h2M473 290h1M479 290h1M503 290h1M511 290h1M442 291h1M452 291h1M474 291h1M481 291h1M485 291h1M507 291h1M434 292h1M437 292h2M444 292h1M449 292h1M461 292h2M470 292h1M474 292h1M476 292h1M481 292h2M494 292h1M509 292h1M433 293h1M441 293h1M446 293h1M454 293h1M467 293h1M471 293h1M474 293h1M477 293h1M487 293h1M509 293h2M438 294h1M445 294h1M449 294h1M457 294h1M468 294h2M476 294h2M481 294h1M483 294h1M499 294h2M503 294h1M508 294h1M512 294h1M433 295h1M464 295h1M468 295h1M476 295h1M479 295h1M481 295h1M503 295h2M451 296h1M454 296h1M473 296h2M480 296h2M491 296h2M494 296h1M496 296h1M499 296h1M439 297h1M459 297h1M464 297h1M477 297h1M480 297h1M483 297h1M485 297h1M503 297h1M505 297h1M459 298h1M467 298h2M492 298h1M497 298h1M506 298h1M439 299h1M452 299h2M465 299h1M468 299h2M471 299h1M473 299h2M477 299h1M481 299h1M486 299h1M489 299h1M492 299h1M512 299h1M432 300h1M442 300h1M449 300h1M458 300h1M462 300h2M468 300h1M480 300h1M482 300h1M484 300h1M498 300h1M514 300h1M445 301h1M451 301h1M463 301h1M478 301h1M480 301h3M487 301h2M498 301h5M506 301h2M511 301h1M513 301h1M452 302h2M465 302h1M468 302h1M475 302h3M484 302h1M488 302h1M503 302h2M511 302h2M514 302h1M456 303h1M462 303h1M467 303h1M483 303h1M496 303h2M507 303h1M434 304h1M441 304h1M451 304h1M479 304h2M482 304h2M489 304h3M494 304h1M500 304h1M503 304h1M505 304h1M514 304h1M442 305h1M484 305h1M486 305h1M496 305h1M498 305h2M503 305h2M507 305h1M457 306h2M463 306h1M481 306h1M486 306h1M488 306h2M491 306h1M495 306h1M499 306h1M507 306h1M437 307h1M441 307h1M454 307h1M460 307h1M479 307h2M484 307h1M487 307h1M489 307h1M494 307h1M506 307h1M514 307h1M446 308h1M450 308h1M459 308h1M476 308h3M482 308h1M486 308h1M490 308h2M455 309h1M458 309h1M446 310h2M457 310h1M474 310h1M479 310h1M485 310h1M490 310h1M492 310h1M450 311h1M452 311h1M473 311h2M476 311h1M482 311h2M488 311h1M490 311h1M494 311h1M498 311h1M451 312h1M474 312h1M479 312h1M491 312h1M498 312h1M514 312h1M450 313h1M462 313h1M467 313h1M478 313h1M485 313h1M448 314h1M472 314h1M447 315h1M454 315h1M463 315h1M474 315h1M483 315h1M486 315h1M452 316h1M456 316h1M460 316h1M492 316h1M495 316h1M450 317h1M468 317h1M482 317h2M489 317h1M492 317h1M514 317h1M449 318h1M471 318h1M480 318h1M482 318h1M485 318h1M487 318h1M494 318h1" stroke="#646464" stroke-width="1" fill="none" transform="translate(0 .5)"/>
<path d="M493 258h1M490 265h2M454 266h1M492 266h1M494 266h1M498 266h1M474 267h1M498 267h1M503 267h1M471 268h1M483 268h1M491 268h1M494 268h1M509 268h1M443 269h1M476 269h1M481 269h1M488 269h1M490 269h1M492 269h1M495 269h1M497 269h2M501 269h2M505 269h1M482 270h1M485 270h1M491 270h5M497 270h1M499 270h2M457 271h1M465 271h1M469 271h1M471 271h1M482 271h1M488 271h4M493 271h1M495 271h1M497 271h1M499 271h5M509 271h1M467 272h1M481 272h1M485 272h1M488 272h1M490 272h5M496 272h4M501 272h1M504 272h1M432 273h1M448 273h1M471 273h2M482 273h1M486 273h1M488 273h1M491 273h2M494 273h3M499 273h5M505 273h3M482 274h1M486 274h13M500 274h4M506 274h2M509 274h1M438 275h1M482 275h1M485 275h2M488 275h9M498 275h9M478 276h1M484 276h5M490 276h4M495 276h1M497 276h2M500 276h2M503 276h4M457 277h1M465 277h1M472 277h1M477 277h2M480 277h1M483 277h1M485 277h1M488 277h2M491 277h10M502 277h2M505 277h2M508 277h1M510 277h2M450 278h1M456 278h1M473 278h1M482 278h1M484 278h1M487 278h9M497 278h3M501 278h1M503 278h3M507 278h1M509 278h1M511 278h1M439 279h1M458 279h1M481 279h7M489 279h8M498 279h5M504 279h1M508 279h1M473 280h1M476 280h3M482 280h1M484 280h7M492 280h10M503 280h1M505 280h3M437 281h1M444 281h1M448 281h1M460 281h1M470 281h1M473 281h1M477 281h4M484 281h1M487 281h10M499 281h2M503 281h4M508 281h3M467 282h1M481 282h1M484 282h1M486 282h1M488 282h18M507 282h1M442 283h1M461 283h2M469 283h1M472 283h1M475 283h2M478 283h8M487 283h3M491 283h13M505 283h2M508 283h1M510 283h1M514 283h1M452 284h1M470 284h1M472 284h2M475 284h1M478 284h1M480 284h4M485 284h7M493 284h11M505 284h1M507 284h1M448 285h1M461 285h1M467 285h1M469 285h1M476 285h1M479 285h1M481 285h1M483 285h6M490 285h3M494 285h13M456 286h1M467 286h1M471 286h3M478 286h1M480 286h25M506 286h1M508 286h1M435 287h1M447 287h1M449 287h1M475 287h3M479 287h1M482 287h20M503 287h2M506 287h3M447 288h1M469 288h1M475 288h2M478 288h1M483 288h17M502 288h1M505 288h2M510 288h1M474 289h3M478 289h4M483 289h7M491 289h11M503 289h2M507 289h1M512 289h1M472 290h1M476 290h2M480 290h10M491 290h7M500 290h3M506 290h1M508 290h1M510 290h1M439 291h1M458 291h1M463 291h1M468 291h1M477 291h2M482 291h1M484 291h1M486 291h16M503 291h1M505 291h1M511 291h1M513 291h1M463 292h1M465 292h1M471 292h2M475 292h1M477 292h4M483 292h3M487 292h7M495 292h9M506 292h1M445 293h1M466 293h1M473 293h1M476 293h1M479 293h2M482 293h5M488 293h16M506 293h2M458 294h1M464 294h1M472 294h1M475 294h1M479 294h2M482 294h1M484 294h4M489 294h10M501 294h2M504 294h1M509 294h1M436 295h1M460 295h1M467 295h1M470 295h1M477 295h1M480 295h1M482 295h18M501 295h1M505 295h5M475 296h1M482 296h1M484 296h1M486 296h2M489 296h2M493 296h1M495 296h1M497 296h2M500 296h4M506 296h4M460 297h1M462 297h1M465 297h1M472 297h3M481 297h1M486 297h2M489 297h7M497 297h5M506 297h1M509 297h1M514 297h1M458 298h1M484 298h4M490 298h2M493 298h4M498 298h1M500 298h1M503 298h1M505 298h1M507 298h1M509 298h1M512 298h1M464 299h1M478 299h3M483 299h1M485 299h1M487 299h2M490 299h1M493 299h7M502 299h2M509 299h1M444 300h1M467 300h1M474 300h1M476 300h4M483 300h1M485 300h2M488 300h9M500 300h1M502 300h3M438 301h1M448 301h1M466 301h1M468 301h1M475 301h1M483 301h1M485 301h2M489 301h3M493 301h4M503 301h1M469 302h1M482 302h2M486 302h1M491 302h4M497 302h2M500 302h2M439 303h1M472 303h1M477 303h1M480 303h1M482 303h1M485 303h6M493 303h3M498 303h4M431 304h1M474 304h1M478 304h1M481 304h1M484 304h1M486 304h2M495 304h3M508 304h1M446 305h1M454 305h1M472 305h1M478 305h1M482 305h1M485 305h1M488 305h1M490 305h2M494 305h1M490 306h1M493 306h2M496 306h3M503 306h1M456 307h1M463 307h1M465 307h1M474 307h1M478 307h1M482 307h2M485 307h2M495 307h4M471 308h1M487 308h1M489 308h1M494 308h3M465 309h1M474 309h1M480 309h1M485 309h3M491 309h1M458 310h1M481 310h1M488 310h1M494 310h1M496 310h1M456 311h1M475 311h1M481 311h1M458 312h1M477 312h1M489 312h1M484 313h1M487 313h1M490 313h1M496 313h1M449 314h1M465 314h1M474 314h1M482 314h1M486 314h1M488 314h1M490 314h1M445 315h1M491 315h1M497 315h1M444 316h1M449 316h1M454 316h1M483 316h1M498 316h1M474 317h1M485 317h1M468 318h1M478 318h1M498 318h1" stroke="#222222" stroke-width="1" fill="none" transform="translate(0 .5)"/>
</g>
<line x1="465.0" y1="237.4" x2="465.0" y2="319.6" stroke="#1a1a1a" stroke-width="1.3"/>
<line x1="430.6" y1="268.0" x2="516.0" y2="268.0" stroke="#1a1a1a" stroke-width="1.3"/>
<rect x="430.6" y="237.4" width="85.4" height="82.2" fill="none" stroke="#1a1a1a" stroke-width="1.6"/>
<text transform="translate(433.20 247.10) scale(0.8792 1)" fill="#1a1a1a" stroke="#1a1a1a" stroke-width="0.18"><tspan x="-0.72" y="0.00" font-size="9.50">1</tspan></text>
<text transform="translate(507.50 247.10) scale(0.8792 1)" fill="#1a1a1a" stroke="#1a1a1a" stroke-width="0.18"><tspan x="-0.72" y="0.00" font-size="9.50">1</tspan></text>
<text transform="translate(431.80 316.00) scale(1.0872 1)" fill="#1a1a1a" stroke="#1a1a1a" stroke-width="0.18"><tspan x="-0.73 4.63" y="0.00" font-size="9.64">18</tspan></text>
<text transform="translate(500.70 316.00) scale(1.0984 1)" fill="#1a1a1a" stroke="#1a1a1a" stroke-width="0.18"><tspan x="-0.42 4.94" y="0.00" font-size="9.64">80</tspan></text>
<line x1="334.8" y1="216.2" x2="334.8" y2="176.0" stroke="#1a1a1a" stroke-width="1.6"/>
<path d="M331.8 177.0 334.8 167.5 337.8 177.0Z" fill="#1a1a1a" stroke="none" stroke-width="1"/>
<text transform="translate(338.60 245.10) rotate(-90) scale(0.9637 1)" fill="#1a1a1a" stroke="#1a1a1a" stroke-width="0.18"><tspan x="-0.49 6.47 13.43 18.79" y="0.00" font-size="9.64">CD44</tspan></text>
<line x1="334.8" y1="251.0" x2="334.8" y2="291.2" stroke="#1a1a1a" stroke-width="1.6"/>
<line x1="358.2" y1="326.1" x2="409.2" y2="326.1" stroke="#1a1a1a" stroke-width="1.7"/>
<text transform="translate(414.40 330.00) scale(0.9782 1)" fill="#1a1a1a" stroke="#1a1a1a" stroke-width="0.18"><tspan x="-0.50 6.66 13.82 19.33" y="0.00" font-size="9.92">CD25</tspan></text>
<line x1="449.8" y1="324.4" x2="496.6" y2="324.4" stroke="#1a1a1a" stroke-width="1.7"/>
<path d="M495.6 320.8 504.6 324.4 495.6 328.0Z" fill="#1a1a1a" stroke="none" stroke-width="1"/>
<text transform="translate(369.40 348.20) scale(0.9840 1)" fill="#1a1a1a" stroke="#1a1a1a" stroke-width="0.18"><tspan x="-0.04 6.57 12.09 17.04 19.80 22.55 29.17" y="0.00" font-size="9.92">Vect/B6</tspan></text>
<text transform="translate(448.50 348.00) scale(0.9406 1)" fill="#1a1a1a" stroke="#1a1a1a" stroke-width="0.18"><tspan x="-0.50 6.66 12.17 19.89 23.19 29.25 32.00 38.61" y="0.00" font-size="9.92">C3G-F/B6</tspan></text>
<path d="M342.0 400.3 342.0 375.6 342.5 379.2 343.0 381.9 343.5 380.7 344.0 368.2 344.5 380.7 345.0 379.0 345.5 362.7 346.0 365.5 346.5 377.9 347.0 382.0 347.5 375.6 348.0 372.5 348.5 367.0 349.0 361.3 349.5 361.7 350.0 371.4 350.5 362.7 351.0 372.6 351.5 379.9 352.0 382.0 352.5 375.6 353.0 369.9 353.5 360.2 354.0 368.5 354.5 367.8 355.0 379.9 355.5 360.0 356.0 380.8 356.5 367.9 357.0 367.6 357.5 375.4 358.0 372.6 358.5 378.7 359.0 366.4 359.5 378.3 360.0 360.1 360.5 376.8 361.0 378.0 361.5 365.0 362.0 372.2 362.5 362.7 363.0 365.9 363.5 382.0 364.0 369.6 364.5 361.9 365.0 377.6 365.5 379.2 366.0 376.3 366.5 382.8 367.0 378.7 367.5 377.7 368.0 382.1 368.5 384.9 369.0 388.8 369.5 389.3 370.0 392.9 370.5 393.0 371.0 395.3 371.5 397.3 372.0 398.2 372.5 400.2 373.0 400.2 373.0 400.3Z" fill="#111" stroke="none" stroke-width="1"/>
<path d="M342.3 369.8 342.9 367.6 343.5 371.4 344.1 366.6 344.7 360.0 345.3 366.0 345.9 373.3 346.5 364.6 347.1 374.4 347.7 360.5 348.3 374.1 348.9 359.4 349.5 371.1 350.1 360.6 350.7 373.5 351.3 360.5 351.9 371.8 352.5 362.5 353.1 373.9 353.7 361.9 354.3 368.9 354.9 357.0 355.5 369.8 356.1 360.0 356.7 369.0 357.3 359.4 357.9 368.8 358.5 362.9 359.1 370.6 359.7 361.1 360.3 369.4 360.9 360.8 361.5 352.5 362.1 360.1 362.7 367.2 363.3 356.4 363.9 367.8 364.5 356.6 365.1 370.0 365.7 358.3 366.3 369.1 366.9 362.9 367.5 377.0 368.1 367.9 368.7 377.4 369.3 373.4 369.9 378.7 370.5 377.2 371.1 383.5 371.7 381.2 372.3 385.1 372.9 383.2 373.5 385.9 374.1 383.5 374.7 388.9 375.3 388.3 375.9 386.3 376.5 390.2 377.1 392.2 377.7 390.9 378.3 394.1 378.9 392.5 379.5 395.5 380.1 390.5 380.7 394.6 381.3 391.3 381.9 395.0 382.5 391.9 383.1 393.7 383.7 390.3 384.3 394.6 384.9 393.2 385.5 393.9 386.1 392.4 386.7 394.8 387.3 393.1 387.9 396.1 388.5 390.3 389.1 395.7 389.7 393.5 390.3 396.0 390.9 391.9 391.5 394.6 392.1 393.6 392.7 385.0 393.3 392.4 393.9 395.2 394.5 387.4 395.1 396.4 395.7 392.9 396.3 396.8 396.9 391.3 397.5 394.4 398.1 392.9 398.7 394.6 399.3 392.2 399.9 396.8 400.5 391.5 401.1 396.0 401.7 388.8 402.3 396.0 402.9 390.4 403.5 394.2 404.1 392.4 404.7 382.0 405.3 391.6 405.9 395.7 406.5 394.3 407.1 396.6 407.7 395.6 408.3 397.4 408.9 396.3 409.5 397.3 410.1 397.4 410.7 398.4 411.3 396.9 411.9 398.6 412.5 397.3 413.1 398.7 413.7 396.8 414.3 398.5 414.9 397.5 415.5 398.0 416.1 397.3 416.7 398.6 417.3 397.0 417.9 398.6 418.5 397.2 419.1 398.6 419.7 397.6 420.3 399.0 420.9 397.4 421.5 398.9 422.1 397.9 422.7 398.5 423.3 397.7 423.9 398.7 424.5 397.6 425.1 399.1 425.7 398.1 426.3 398.8" fill="none" stroke="#8f8f8f" stroke-width="0.8" stroke-linejoin="bevel"/>
<rect x="342.2" y="351.2" width="85.1" height="49.1" fill="none" stroke="#1a1a1a" stroke-width="1.5"/>
<line x1="372.5" y1="363.4" x2="372.5" y2="372.6" stroke="#1a1a1a" stroke-width="1.6"/>
<line x1="372.5" y1="367.8" x2="425.6" y2="367.8" stroke="#1a1a1a" stroke-width="1.6"/>
<text transform="translate(391.90 364.50) scale(0.9250 1)" fill="#1a1a1a" stroke="#1a1a1a" stroke-width="0.18"><tspan x="-0.72 4.56 9.84" y="0.00" font-size="9.50">13%</tspan></text>
<path d="M431.0 400.3 431.0 383.6 431.5 383.7 432.0 383.9 432.5 384.1 433.0 383.0 433.5 384.4 434.0 384.5 434.5 384.2 435.0 384.7 435.5 383.2 436.0 382.3 436.5 384.9 437.0 385.0 437.5 384.3 438.0 384.3 438.5 385.0 439.0 384.3 439.5 382.4 440.0 384.5 440.5 384.3 441.0 384.3 441.5 384.0 442.0 383.7 442.5 383.9 443.0 380.0 443.5 383.1 444.0 383.4 444.5 382.6 445.0 383.0 445.5 381.8 446.0 382.7 446.5 382.4 447.0 381.4 447.5 382.8 448.0 382.4 448.5 382.5 449.0 382.4 449.5 382.5 450.0 382.7 450.5 382.6 451.0 382.1 451.5 383.0 452.0 383.0 452.5 383.6 453.0 383.7 453.5 383.4 454.0 384.5 454.5 385.4 455.0 386.5 455.5 387.5 456.0 388.8 456.5 389.1 457.0 391.1 457.5 392.4 458.0 394.0 458.5 395.1 459.0 396.3 459.5 397.4 460.0 398.7 460.5 399.7 461.0 399.9 461.0 400.3Z" fill="#111" stroke="none" stroke-width="1"/>
<rect x="430.8" y="351.2" width="86.4" height="49.1" fill="none" stroke="#1a1a1a" stroke-width="1.5"/>
<line x1="460.4" y1="363.3" x2="460.4" y2="372.7" stroke="#1a1a1a" stroke-width="1.6"/>
<line x1="460.4" y1="367.7" x2="513.8" y2="367.7" stroke="#1a1a1a" stroke-width="1.6"/>
<text transform="translate(475.40 364.60) scale(0.9791 1)" fill="#1a1a1a" stroke="#1a1a1a" stroke-width="0.18"><tspan x="-0.72 4.56" y="0.00" font-size="9.50">1%</tspan></text>
<path d="M342.0 453.4 342.0 416.2 342.5 418.2 343.0 422.1 343.5 420.5 344.0 424.3 344.5 420.8 345.0 427.2 345.5 419.9 346.0 430.0 346.5 426.0 347.0 425.0 347.5 422.3 348.0 427.0 348.5 421.0 349.0 432.1 349.5 429.2 350.0 427.6 350.5 434.1 351.0 432.1 351.5 433.8 352.0 432.2 352.5 423.5 353.0 431.7 353.5 428.9 354.0 429.1 354.5 435.3 355.0 423.5 355.5 427.5 356.0 432.9 356.5 438.5 357.0 433.1 357.5 431.9 358.0 434.7 358.5 439.5 359.0 432.7 359.5 427.1 360.0 429.3 360.5 437.2 361.0 428.1 361.5 433.4 362.0 433.1 362.5 440.6 363.0 439.1 363.5 439.3 364.0 439.0 364.5 444.3 365.0 441.8 365.5 444.9 366.0 445.8 366.5 445.0 367.0 446.6 367.5 447.0 368.0 448.5 368.5 448.6 369.0 449.3 369.5 450.2 370.0 449.1 370.5 448.9 371.0 449.7 371.5 449.8 372.0 449.9 372.5 449.3 373.0 449.9 373.5 449.9 374.0 450.1 374.5 449.1 375.0 450.2 375.5 450.8 376.0 449.7 376.5 450.5 377.0 450.3 377.5 450.0 378.0 450.5 378.5 450.1 379.0 449.6 379.5 450.3 380.0 450.7 380.5 450.5 381.0 451.1 381.5 451.2 382.0 451.1 382.5 451.3 383.0 450.1 383.5 450.2 384.0 450.2 384.5 450.8 385.0 450.3 385.5 451.4 386.0 451.2 386.5 451.6 387.0 452.6 387.5 452.1 388.0 452.7 388.0 453.4Z" fill="#111" stroke="none" stroke-width="1"/>
<path d="M342.3 420.1 342.9 420.0 343.5 426.9 344.1 425.2 344.7 430.8 345.3 432.5 345.9 436.7 346.5 435.1 347.1 441.7 347.7 439.1 348.3 443.7 348.9 439.8 349.5 445.3 350.1 441.9 350.7 444.7 351.3 441.3 351.9 444.6 352.5 441.4 353.1 444.8 353.7 440.3 354.3 443.1 354.9 441.1 355.5 443.3 356.1 440.6 356.7 442.2 357.3 440.5 357.9 444.7 358.5 439.6 359.1 445.0 359.7 439.9 360.3 442.9 360.9 440.6 361.5 443.4 362.1 439.4 362.7 444.4 363.3 439.7 363.9 444.3 364.5 440.8 365.1 445.0 365.7 440.1 366.3 445.1 366.9 441.5 367.5 443.3 368.1 442.3 368.7 445.2 369.3 440.4 369.9 445.1 370.5 442.1 371.1 444.0 371.7 437.8 372.3 439.5 372.9 437.5 373.5 439.7 374.1 434.5 374.7 433.5 375.3 432.3 375.9 434.5 376.5 430.0 377.1 433.3 377.7 429.6 378.3 431.3 378.9 425.8 379.5 430.6 380.1 427.2 380.7 431.3 381.3 427.0 381.9 430.1 382.5 426.4 383.1 428.1 383.7 423.1 384.3 428.1 384.9 424.1 385.5 428.0 386.1 423.6 386.7 427.5 387.3 421.3 387.9 427.7 388.5 425.1 389.1 427.5 389.7 426.9 390.3 428.2 390.9 426.8 391.5 427.5 392.1 423.0 392.7 432.8 393.3 430.6 393.9 433.5 394.5 430.3 395.1 436.3 395.7 433.4 396.3 437.4 396.9 435.1 397.5 441.4 398.1 435.5 398.7 442.9 399.3 442.0 399.9 444.5 400.5 441.7 401.1 444.2 401.7 443.2 402.3 446.4 402.9 443.3 403.5 447.6 404.1 445.8 404.7 448.7 405.3 445.7 405.9 447.2 406.5 446.7 407.1 446.7 407.7 445.2 408.3 447.0 408.9 444.5 409.5 447.4 410.1 442.5 410.7 443.5 411.3 442.5 411.9 446.0 412.5 442.1 413.1 443.6 413.7 441.1 414.3 444.9 414.9 442.3 415.5 444.2 416.1 441.7 416.7 445.2 417.3 442.1 417.9 442.3 418.5 442.2 419.1 444.9 419.7 441.6 420.3 447.5 420.9 444.4 421.5 448.9 422.1 443.2 422.7 448.7 423.3 447.5 423.9 450.5 424.5 450.2 425.1 452.2 425.7 451.0 426.3 452.9" fill="none" stroke="#858585" stroke-width="0.85" stroke-linejoin="bevel"/>
<rect x="342.2" y="404.2" width="85.1" height="49.2" fill="none" stroke="#1a1a1a" stroke-width="1.5"/>
<line x1="371.1" y1="415.8" x2="371.1" y2="425.4" stroke="#1a1a1a" stroke-width="1.6"/>
<line x1="371.1" y1="420.2" x2="424.8" y2="420.2" stroke="#1a1a1a" stroke-width="1.6"/>
<text transform="translate(392.40 418.80) scale(0.9678 1)" fill="#1a1a1a" stroke="#1a1a1a" stroke-width="0.18"><tspan x="-0.38 4.90 10.18" y="0.00" font-size="9.50">58%</tspan></text>
<path d="M431.0 453.4 431.0 435.8 431.5 436.4 432.0 433.1 432.5 437.6 433.0 437.9 433.5 435.4 434.0 438.3 434.5 437.0 435.0 438.4 435.5 438.3 436.0 439.3 436.5 439.5 437.0 439.8 437.5 439.7 438.0 439.3 438.5 436.8 439.0 438.4 439.5 438.7 440.0 435.6 440.5 438.7 441.0 438.4 441.5 437.2 442.0 438.1 442.5 437.0 443.0 436.9 443.5 435.3 444.0 436.5 444.5 436.6 445.0 435.5 445.5 437.0 446.0 436.9 446.5 434.4 447.0 436.5 447.5 436.5 448.0 436.4 448.5 436.2 449.0 436.1 449.5 436.0 450.0 435.2 450.5 435.6 451.0 435.4 451.5 435.2 452.0 433.8 452.5 430.3 453.0 433.9 453.5 433.0 454.0 434.6 454.5 434.2 455.0 436.3 455.5 433.7 456.0 438.7 456.5 439.8 457.0 441.9 457.5 443.6 458.0 445.3 458.5 446.9 459.0 448.5 459.5 450.1 460.0 450.8 460.5 452.4 461.0 452.9 461.0 453.4Z" fill="#111" stroke="none" stroke-width="1"/>
<path d="M431.3 443.6 431.8 443.2 432.3 444.6 432.8 442.4 433.3 444.6 433.8 442.4 434.3 444.6 434.8 442.4 435.3 444.1 435.8 442.2 436.3 443.9 436.8 443.2 437.3 444.1 437.8 443.2 438.3 443.6 438.8 442.8 439.3 444.2 439.8 442.1 440.3 444.4 440.8 442.8 441.3 444.1 441.8 443.0 442.3 443.3 442.8 443.1 443.3 443.6 443.8 442.7 444.3 443.3 444.8 442.6 445.3 443.9 445.8 443.1 446.3 443.6 446.8 442.3 447.3 443.6 447.8 442.1 448.3 443.7 448.8 442.2 449.3 444.1 449.8 442.5 450.3 442.9 450.8 440.6 451.3 440.7 451.8 438.7 452.3 439.0 452.8 437.3 453.3 437.9 453.8 436.9 454.3 438.0 454.8 436.3 455.3 437.8 455.8 436.8 456.3 437.8 456.8 438.1 457.3 439.6 457.8 439.1 458.3 441.0 458.8 441.2 459.3 442.7 459.8 442.7 460.3 444.3 460.8 444.7 461.3 445.9 461.8 446.5 462.3 448.0 462.8 447.5 463.3 449.1 463.8 448.3 464.3 449.6 464.8 448.7 465.3 449.6 465.8 449.0 466.3 449.5 466.8 448.9 467.3 449.7 467.8 448.7 468.3 450.0 468.8 449.2 469.3 450.3 469.8 449.9 470.3 450.4 470.8 449.7 471.3 450.7 471.8 450.3 472.3 450.9 472.8 450.5 473.3 451.7 473.8 451.2 474.3 451.7 474.8 451.1 475.3 451.7 475.8 451.3 476.3 452.3 476.8 451.7 477.3 452.3 477.8 452.1 478.3 452.5 478.8 452.3 479.3 452.6 479.8 452.4 480.3 452.6 480.8 452.4 481.3 452.6 481.8 452.3 482.3 452.8 482.8 452.5 483.3 452.8 483.8 452.7 484.3 452.9 484.8 452.8 485.3 452.9 485.8 452.8 486.3 452.9 486.8 452.9 487.3 452.9 487.8 452.9" fill="none" stroke="#8a8a8a" stroke-width="0.9" stroke-linejoin="bevel"/>
<rect x="430.8" y="404.2" width="86.4" height="49.2" fill="none" stroke="#1a1a1a" stroke-width="1.5"/>
<line x1="459.5" y1="415.3" x2="459.5" y2="424.1" stroke="#1a1a1a" stroke-width="1.6"/>
<line x1="459.5" y1="419.7" x2="513.5" y2="419.7" stroke="#1a1a1a" stroke-width="1.6"/>
<text transform="translate(480.20 416.40) scale(0.9361 1)" fill="#1a1a1a" stroke="#1a1a1a" stroke-width="0.18"><tspan x="-0.72 4.56 9.84" y="0.00" font-size="9.50">15%</tspan></text>
<path d="M342.0 505.8 342.0 480.6 342.5 483.3 343.0 484.4 343.5 484.1 344.0 483.3 344.5 483.9 345.0 476.4 345.5 473.7 346.0 476.2 346.5 488.0 347.0 487.8 347.5 471.1 348.0 480.6 348.5 471.7 349.0 485.0 349.5 475.5 350.0 471.4 350.5 469.6 351.0 481.3 351.5 484.4 352.0 469.7 352.5 489.0 353.0 469.4 353.5 488.8 354.0 479.3 354.5 487.4 355.0 482.1 355.5 468.4 356.0 488.2 356.5 470.8 357.0 471.6 357.5 478.4 358.0 479.2 358.5 489.0 359.0 485.8 359.5 473.9 360.0 488.3 360.5 467.4 361.0 485.0 361.5 479.2 362.0 485.2 362.5 484.1 363.0 489.0 363.5 485.2 364.0 473.2 364.5 487.6 365.0 472.0 365.5 488.3 366.0 485.6 366.5 486.9 367.0 472.2 367.5 481.9 368.0 485.5 368.5 488.4 369.0 488.1 369.5 494.2 370.0 496.7 370.5 499.2 371.0 501.1 371.5 502.7 372.0 503.6 372.5 505.7 373.0 505.7 373.0 505.8Z" fill="#111" stroke="none" stroke-width="1"/>
<path d="M342.3 478.1 342.9 472.6 343.5 477.8 344.1 466.8 344.7 476.1 345.3 468.1 345.9 476.7 346.5 471.8 347.1 476.9 347.7 465.0 348.3 477.7 348.9 472.1 349.5 479.1 350.1 473.9 350.7 481.7 351.3 465.4 351.9 479.8 352.5 466.8 353.1 474.0 353.7 465.5 354.3 475.9 354.9 468.9 355.5 473.5 356.1 470.8 356.7 480.5 357.3 464.6 357.9 480.3 358.5 464.4 359.1 474.1 359.7 463.0 360.3 477.5 360.9 464.7 361.5 472.4 362.1 465.6 362.7 472.2 363.3 465.1 363.9 478.8 364.5 458.5 365.1 476.4 365.7 467.7 366.3 483.0 366.9 471.5 367.5 480.5 368.1 475.5 368.7 481.3 369.3 478.2 369.9 486.1 370.5 483.0 371.1 487.8 371.7 487.7 372.3 493.3 372.9 492.1 373.5 495.4 374.1 496.2 374.7 498.1 375.3 495.0 375.9 499.1 376.5 494.1 377.1 499.0 377.7 495.7 378.3 497.1 378.9 496.9 379.5 497.0 380.1 495.6 380.7 497.3 381.3 494.2 381.9 499.4 382.5 494.9 383.1 492.2 383.7 495.4 384.3 498.8 384.9 490.5 385.5 497.4 386.1 494.1 386.7 497.4 387.3 495.9 387.9 498.1 388.5 495.3 389.1 499.0 389.7 494.9 390.3 499.3 390.9 495.6 391.5 497.9 392.1 491.0 392.7 498.5 393.3 495.2 393.9 495.5 394.5 494.9 395.1 498.3 395.7 490.6 396.3 499.3 396.9 496.6 397.5 499.3 398.1 496.2 398.7 496.9 399.3 495.8 399.9 498.6 400.5 494.9 401.1 499.3 401.7 496.2 402.3 497.4 402.9 496.2 403.5 498.7 404.1 497.6 404.7 499.4 405.3 498.3 405.9 501.2 406.5 501.1 407.1 502.3 407.7 502.2 408.3 504.1 408.9 502.2 409.5 504.4 410.1 502.9 410.7 505.3 411.3 503.4 411.9 505.2 412.5 502.9 413.1 504.2 413.7 503.4 414.3 504.6 414.9 503.2 415.5 504.9 416.1 504.1 416.7 505.3 417.3 503.6 417.9 504.4 418.5 503.2 419.1 505.2 419.7 504.2 420.3 504.5 420.9 503.7 421.5 505.3 422.1 504.4 422.7 504.6 423.3 504.2 423.9 504.9 424.5 504.5 425.1 504.7 425.7 503.8 426.3 504.6" fill="none" stroke="#8f8f8f" stroke-width="0.8" stroke-linejoin="bevel"/>
<rect x="342.2" y="457.3" width="85.1" height="48.5" fill="none" stroke="#1a1a1a" stroke-width="1.5"/>
<line x1="372.9" y1="472.3" x2="372.9" y2="481.8" stroke="#1a1a1a" stroke-width="1.6"/>
<line x1="372.9" y1="477.0" x2="426.2" y2="477.0" stroke="#1a1a1a" stroke-width="1.6"/>
<text transform="translate(395.00 473.40) scale(0.8860 1)" fill="#1a1a1a" stroke="#1a1a1a" stroke-width="0.18"><tspan x="-0.72 4.56 9.84" y="0.00" font-size="9.50">11%</tspan></text>
<path d="M431.0 505.8 431.0 490.4 431.5 490.4 432.0 490.4 432.5 490.8 433.0 490.2 433.5 489.8 434.0 489.2 434.5 491.2 435.0 490.2 435.5 491.5 436.0 491.6 436.5 491.0 437.0 489.7 437.5 491.1 438.0 491.3 438.5 492.0 439.0 488.0 439.5 491.9 440.0 491.5 440.5 490.6 441.0 489.7 441.5 490.7 442.0 490.9 442.5 490.5 443.0 490.6 443.5 490.4 444.0 490.2 444.5 487.8 445.0 489.8 445.5 489.7 446.0 488.4 446.5 488.9 447.0 489.0 447.5 486.4 448.0 488.6 448.5 488.6 449.0 486.5 449.5 486.7 450.0 488.3 450.5 486.4 451.0 486.0 451.5 488.8 452.0 488.0 452.5 488.1 453.0 489.3 453.5 489.4 454.0 488.2 454.5 490.5 455.0 492.9 455.5 495.0 456.0 496.2 456.5 498.0 457.0 498.1 457.5 500.1 458.0 501.3 458.5 502.5 459.0 503.6 459.5 504.9 460.0 505.8 460.0 505.8Z" fill="#111" stroke="none" stroke-width="1"/>
<rect x="430.8" y="457.3" width="87.2" height="48.5" fill="none" stroke="#1a1a1a" stroke-width="1.5"/>
<line x1="518.2" y1="456.8" x2="518.2" y2="506.3" stroke="#666" stroke-width="1.2"/>
<line x1="460.4" y1="471.3" x2="460.4" y2="479.8" stroke="#1a1a1a" stroke-width="1.6"/>
<line x1="460.4" y1="475.7" x2="513.8" y2="475.7" stroke="#1a1a1a" stroke-width="1.6"/>
<text transform="translate(479.90 472.90) scale(0.9748 1)" fill="#1a1a1a" stroke="#1a1a1a" stroke-width="0.18"><tspan x="-0.47 5.08 10.36" y="0.00" font-size="9.50">&lt;1%</tspan></text>
<text transform="translate(336.80 386.70) rotate(-90) scale(0.9563 1)" fill="#1a1a1a" stroke="#1a1a1a" stroke-width="0.18"><tspan x="-0.47 6.19 12.85" y="0.00" font-size="9.22">CD3</tspan></text>
<text transform="translate(336.80 441.70) rotate(-90) scale(0.8002 1)" fill="#1a1a1a" stroke="#1a1a1a" stroke-width="0.18"><tspan x="-0.21 5.42 12.08 18.74 21.81" y="0.00" font-size="9.22">TCR-β</tspan></text>
<text transform="translate(336.80 494.30) rotate(-90) scale(0.9002 1)" fill="#1a1a1a" stroke="#1a1a1a" stroke-width="0.18"><tspan x="-0.47 6.19 12.85 17.97" y="0.00" font-size="9.22">CD69</tspan></text>
<text transform="translate(390.60 519.00) scale(1.0365 1)" fill="#1a1a1a" stroke="#1a1a1a" stroke-width="0.18"><tspan x="-0.99 2.00 7.98 10.96 16.95 22.93 28.30 30.69 33.68 36.07 42.05 47.43 50.42 54.00 56.39 62.37" y="0.00" font-size="10.75">Intensities (log</tspan><tspan x="68.35 71.94" y="3.23" font-size="6.45">10</tspan><tspan x="75.53" y="0.00" font-size="10.75">)</tspan></text>
</g>
</svg>
</body></html>
